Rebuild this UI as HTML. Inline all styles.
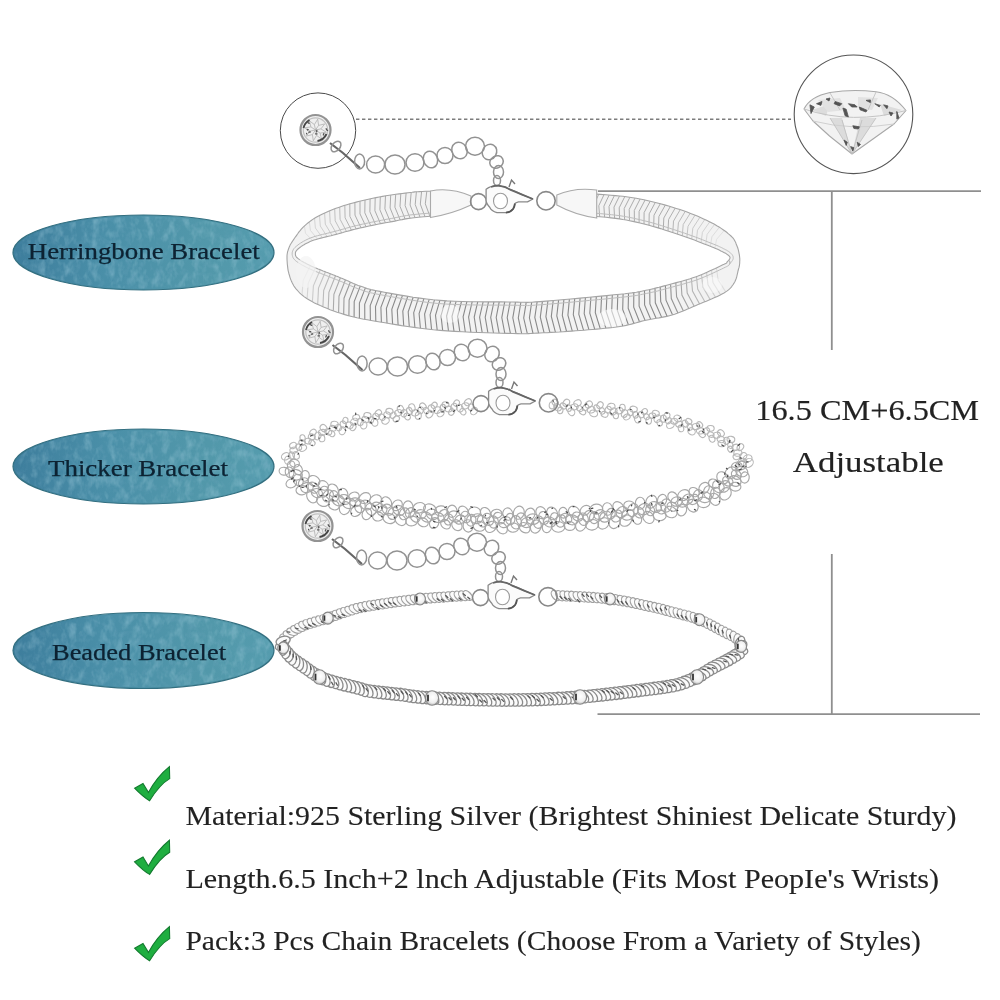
<!DOCTYPE html>
<html><head><meta charset="utf-8">
<style>
html,body{margin:0;padding:0;background:#fff;}
body{width:1000px;height:1000px;overflow:hidden;position:relative;font-family:"Liberation Serif",serif;}
svg{position:absolute;left:0;top:0;}
</style></head>
<body>
<svg width="1000" height="1000" viewBox="0 0 1000 1000">
<defs>
  <filter id="tex" x="0" y="0" width="100%" height="100%">
    <feTurbulence type="fractalNoise" baseFrequency="0.13 0.08" numOctaves="3" seed="5" result="n"/>
    <feColorMatrix in="n" type="matrix" values="0 0 0 0 0.43  0 0 0 0 0.68  0 0 0 0 0.78  0 0 0 1.6 -0.72" result="c"/>
    <feComposite in="c" in2="SourceGraphic" operator="in"/>
  </filter>
  <filter id="tex2" x="0" y="0" width="100%" height="100%">
    <feTurbulence type="fractalNoise" baseFrequency="0.16 0.13" numOctaves="3" seed="17" result="n"/>
    <feColorMatrix in="n" type="matrix" values="0 0 0 0 0.2  0 0 0 0 0.42  0 0 0 0 0.56  0 0 0 1.6 -0.78" result="c"/>
    <feComposite in="c" in2="SourceGraphic" operator="in"/>
  </filter>
  <linearGradient id="tealg" x1="0" y1="0" x2="1" y2="0"><stop offset="0" stop-color="#3d7d9c"/><stop offset="0.35" stop-color="#4a8fa8"/><stop offset="0.75" stop-color="#5298aa"/><stop offset="1" stop-color="#559cae"/></linearGradient>
  <filter id="tsoft" x="-2%" y="-10%" width="104%" height="120%"><feGaussianBlur stdDeviation="0.3"/></filter>
  <g id="chk"><path d="M0,21.6 L8.4,16.8 L13.8,25.8 Q22.5,9.9 34.8,0 L35.1,12 Q25,17.9 15,34.2 Q8,30 0,21.6 Z" fill="#1fae40" stroke="#127a2e" stroke-width="1.1" stroke-linejoin="miter"/></g>
</defs>

<!-- Teal labels -->
<g>
  <ellipse id="e1" cx="143.5" cy="252.5" rx="130.5" ry="37.5" fill="url(#tealg)" stroke="#336f80" stroke-width="1.2"/>
  <ellipse id="e2" cx="143.5" cy="466.5" rx="130.5" ry="37.5" fill="url(#tealg)" stroke="#336f80" stroke-width="1.2"/>
  <ellipse id="e3" cx="143.5" cy="650.5" rx="130.5" ry="38" fill="url(#tealg)" stroke="#336f80" stroke-width="1.2"/>
  <g filter="url(#tex)" opacity="0.5">
    <ellipse cx="143.5" cy="252.5" rx="129" ry="36" fill="#000"/>
    <ellipse cx="143.5" cy="466.5" rx="129" ry="36" fill="#000"/>
    <ellipse cx="143.5" cy="650.5" rx="129" ry="36.5" fill="#000"/>
  </g>
  <g filter="url(#tex2)" opacity="0.4">
    <ellipse cx="143.5" cy="252.5" rx="129" ry="36" fill="#000"/>
    <ellipse cx="143.5" cy="466.5" rx="129" ry="36" fill="#000"/>
    <ellipse cx="143.5" cy="650.5" rx="129" ry="36.5" fill="#000"/>
  </g>
</g>
<g font-family="Liberation Serif" fill="#0a2232" stroke="#0a2232" stroke-width="0.25" font-size="23" filter="url(#tsoft)">
  <text id="t1" x="27.8" y="259.3" textLength="232" lengthAdjust="spacingAndGlyphs">Herringbone Bracelet</text>
  <text id="t2" x="48" y="475.5" textLength="180" lengthAdjust="spacingAndGlyphs">Thicker Bracelet</text>
  <text id="t3" x="52" y="660" textLength="174" lengthAdjust="spacingAndGlyphs">Beaded Bracelet</text>
</g>

<!-- lines -->
<g stroke="#8f8f8f" stroke-width="1.8" fill="none">
  <line x1="598" y1="191.2" x2="981" y2="191.2"/>
  <line x1="831.8" y1="191.2" x2="831.8" y2="350"/>
  <line x1="831.8" y1="554" x2="831.8" y2="714.2"/>
  <line x1="597.5" y1="714.2" x2="980" y2="714.2"/>
</g>
<line x1="356" y1="119.3" x2="791" y2="119.3" stroke="#7c7c7c" stroke-width="1.5" stroke-dasharray="3.4,2.6"/>
<circle cx="318" cy="130.6" r="37.7" fill="none" stroke="#4a4a4a" stroke-width="1"/>
<circle cx="853.5" cy="114.3" r="59.3" fill="none" stroke="#555" stroke-width="1.1"/>

<!-- size text -->
<g font-family="Liberation Serif" fill="#222" stroke="#222" stroke-width="0.15" font-size="30" filter="url(#tsoft)">
  <text id="s1" x="755.3" y="420.3" textLength="223.8" lengthAdjust="spacingAndGlyphs">16.5 CM+6.5CM</text>
  <text id="s2" x="792.8" y="472.3" textLength="151" lengthAdjust="spacingAndGlyphs">Adjustable</text>
</g>

<defs>
<radialGradient id="bead" cx="0.55" cy="0.45" r="0.6"><stop offset="0" stop-color="#ffffff"/><stop offset="0.6" stop-color="#f0f0f0"/><stop offset="1" stop-color="#b0b0b0"/></radialGradient>
<radialGradient id="gemg" cx="0.5" cy="0.5" r="0.5"><stop offset="0" stop-color="#f4f4f4"/><stop offset="0.7" stop-color="#e4e4e4"/><stop offset="1" stop-color="#bdbdbd"/></radialGradient>
<mask id="hbmask" maskUnits="userSpaceOnUse" x="0" y="0" width="1000" height="1000"><rect x="0" y="0" width="1000" height="1000" fill="#fff"/><rect x="430.5" y="170" width="166.2" height="60" fill="#000"/></mask>
</defs>
<filter id="soft" x="-5%" y="-5%" width="110%" height="110%"><feGaussianBlur stdDeviation="0.35"/></filter>
<g filter="url(#soft)">
<g mask="url(#hbmask)">
<path d="M287,258 L287,256.8 L287,255.7 L287.1,254.8 L287.2,253.9 L287.4,253 L287.5,252.2 L287.7,251.4 L288,250.6 L288.2,249.8 L288.5,249 L288.8,248.2 L289.1,247.4 L289.4,246.7 L289.7,246 L290,245.2 L290.4,244.5 L290.9,243.7 L291.5,242.8 L292.1,241.9 L292.8,240.8 L293.6,239.6 L294.5,238.3 L295.5,236.8 L296.6,235.3 L297.7,233.8 L298.8,232.2 L300.1,230.7 L301.3,229.2 L302.7,227.7 L304,226.4 L305.4,225.1 L306.8,223.9 L308.2,222.8 L309.7,221.6 L311.2,220.5 L312.8,219.4 L314.5,218.3 L316.2,217.3 L318.1,216.2 L320,215.2 L322,214.2 L324.2,213.2 L326.4,212.2 L328.6,211.2 L331,210.2 L333.4,209.2 L336,208.3 L338.6,207.4 L341.2,206.5 L344,205.6 L346.9,204.7 L349.9,203.8 L353,203 L356.2,202.1 L359.5,201.3 L362.8,200.5 L366.1,199.7 L369.5,199 L372.8,198.3 L376,197.6 L379.2,197 L382.6,196.4 L385.9,195.8 L389.3,195.3 L392.6,194.8 L395.9,194.3 L399.1,193.9 L402.2,193.5 L405.2,193.1 L408,192.8 L410.4,192.5 L412.1,192.3 L413.5,192.1 L414.8,191.9 L416,191.8 L417.6,191.7 L419.6,191.6 L422.2,191.5 L425.8,191.3 L430.4,191.2 L436.2,191 L443,190.8 L450.6,190.5 L458.9,190.2 L467.7,189.9 L476.8,189.7 L486,189.5 L495.2,189.4 L504.3,189.4 L513,189.5 L521.7,189.7 L530.9,190.1 L540.3,190.5 L549.7,191 L559.2,191.6 L568.4,192.1 L577.2,192.7 L585.5,193.3 L593.2,193.9 L600,194.4 L605.9,194.8 L611,195.2 L615.5,195.6 L619.4,196 L622.9,196.3 L626.3,196.7 L629.5,197.2 L632.8,197.7 L636.2,198.3 L640,199 L644,199.8 L648.1,200.7 L652.3,201.7 L656.4,202.7 L660.5,203.8 L664.6,204.9 L668.6,206 L672.5,207.2 L676.3,208.4 L680,209.6 L683.6,210.8 L687.1,212.1 L690.6,213.4 L694,214.8 L697.3,216.1 L700.5,217.5 L703.6,218.9 L706.6,220.3 L709.4,221.7 L712,223 L714.5,224.3 L716.8,225.7 L719.1,227 L721.2,228.4 L723.1,229.7 L725,231 L726.7,232.3 L728.2,233.6 L729.7,234.8 L731,236 L732.1,237.1 L733.1,238.2 L733.9,239.2 L734.5,240.2 L735,241.2 L735.5,242.1 L735.9,243.1 L736.2,244 L736.6,245 L737,246 L737.4,247 L737.8,248 L738.1,249.1 L738.4,250.1 L738.6,251.1 L738.8,252.1 L739,253.1 L739.2,254.1 L739.4,255.1 L739.5,256 L739.6,256.9 L739.7,257.8 L739.8,258.6 L739.8,259.4 L739.8,260.2 L739.8,261 L739.7,261.8 L739.7,262.6 L739.7,263.3 L739.6,264 L739.5,264.7 L739.5,265.2 L739.4,265.7 L739.3,266.2 L739.2,266.7 L739.1,267.2 L738.9,267.8 L738.7,268.4 L738.5,269.1 L738.3,270 L738,271 L737.8,272.1 L737.5,273.3 L737.2,274.6 L736.9,276 L736.6,277.3 L736.1,278.7 L735.6,280 L735.1,281.3 L734.4,282.5 L733.7,283.6 L733,284.7 L732.2,285.8 L731.5,286.8 L730.6,287.8 L729.6,288.8 L728.5,289.8 L727.2,290.9 L725.7,291.9 L724,293 L722,294.1 L719.8,295.3 L717.3,296.4 L714.7,297.6 L712,298.8 L709.1,300 L706.3,301.2 L703.4,302.3 L700.7,303.5 L698,304.6 L695.4,305.7 L692.8,306.8 L690.2,308 L687.6,309.1 L685,310.2 L682.4,311.3 L679.8,312.3 L677.2,313.3 L674.6,314.2 L672,315 L669.4,315.7 L666.8,316.4 L664.2,316.9 L661.6,317.4 L659,317.9 L656.4,318.3 L653.8,318.7 L651.2,319.2 L648.6,319.7 L646,320.2 L643.5,320.8 L641,321.4 L638.6,322.1 L636.3,322.8 L633.9,323.4 L631.4,324.1 L628.8,324.7 L626.1,325.4 L623.2,326 L620,326.5 L616.6,327 L612.9,327.5 L609,327.9 L605,328.3 L600.9,328.7 L596.7,329.1 L592.4,329.5 L588.2,329.8 L584.1,330.2 L580,330.5 L575.9,330.8 L571.8,331.1 L567.6,331.4 L563.4,331.7 L559.2,332 L555.1,332.2 L551,332.4 L547.2,332.7 L543.5,332.8 L540,333 L537,333.1 L534.5,333.3 L532.4,333.4 L530.5,333.5 L528.6,333.6 L526.5,333.7 L524.1,333.7 L521.1,333.7 L517.5,333.6 L513,333.5 L507.5,333.4 L501.1,333.2 L494.1,333 L486.5,332.8 L478.6,332.5 L470.5,332.2 L462.4,331.8 L454.5,331.4 L447,330.9 L440,330.4 L433.4,329.8 L426.8,329 L420.3,328.2 L413.9,327.4 L407.7,326.5 L401.6,325.6 L395.8,324.6 L390.3,323.7 L385,322.8 L380,322 L375.4,321.2 L371.2,320.5 L367.3,319.8 L363.7,319.2 L360.2,318.5 L357,317.8 L353.7,317 L350.6,316.2 L347.3,315.4 L344,314.4 L340.6,313.3 L337.1,312.2 L333.6,310.9 L330.1,309.7 L326.8,308.3 L323.5,307 L320.3,305.6 L317.3,304.2 L314.5,302.9 L312,301.6 L309.7,300.3 L307.6,299.1 L305.7,297.8 L304,296.6 L302.4,295.3 L301,294.1 L299.6,292.8 L298.4,291.5 L297.2,290.2 L296,288.8 L294.9,287.4 L293.9,286 L293.1,284.5 L292.3,283.1 L291.6,281.6 L291,280.1 L290.4,278.6 L289.9,277.1 L289.5,275.5 L289,274 L288.6,272.4 L288.2,270.8 L287.9,269.1 L287.7,267.4 L287.5,265.6 L287.3,264 L287.2,262.3 L287.1,260.8 L287,259.3 Z M295.5,255 L295.4,254.5 L295.4,253.9 L295.4,253.3 L295.4,252.8 L295.6,252.2 L295.8,251.6 L296.2,251 L296.7,250.4 L297.3,249.7 L298,249 L298.9,248.3 L299.9,247.5 L301,246.6 L302.3,245.8 L303.7,244.9 L305.1,244.1 L306.7,243.2 L308.4,242.4 L310.1,241.6 L312,240.8 L314,240.1 L316.2,239.4 L318.5,238.7 L320.9,238.1 L323.4,237.5 L325.9,236.9 L328.5,236.3 L331,235.7 L333.6,235 L336,234.4 L338.4,233.8 L340.7,233.1 L342.9,232.5 L345.2,231.8 L347.5,231.2 L349.8,230.6 L352.2,229.9 L354.7,229.3 L357.3,228.6 L360,228 L362.9,227.4 L365.9,226.7 L369,226 L372.2,225.4 L375.5,224.7 L378.8,224 L382.1,223.4 L385.5,222.8 L388.8,222.2 L392,221.6 L394.9,221.1 L397.5,220.5 L399.8,220 L402.1,219.6 L404.4,219.1 L407.1,218.6 L410.2,218.2 L414,217.7 L418.5,217.3 L424,216.8 L430.6,216.3 L438.2,215.7 L446.6,215.1 L455.6,214.4 L465.1,213.8 L474.8,213.2 L484.7,212.7 L494.4,212.3 L503.9,212.1 L513,212 L522,212.1 L531.3,212.3 L540.7,212.7 L550.2,213.2 L559.6,213.7 L568.7,214.3 L577.4,215 L585.6,215.6 L593.2,216.2 L600,216.8 L605.9,217.3 L611,217.9 L615.5,218.4 L619.4,218.9 L622.9,219.5 L626.3,220 L629.5,220.7 L632.8,221.4 L636.2,222.1 L640,223 L644,224 L648.1,225 L652.3,226.2 L656.4,227.4 L660.5,228.6 L664.6,229.9 L668.6,231.2 L672.5,232.5 L676.3,233.8 L680,235 L683.6,236.2 L687.2,237.5 L690.8,238.8 L694.4,240.1 L697.8,241.4 L701.1,242.7 L704.2,243.9 L707.1,245 L709.7,246.1 L712,247 L714,247.8 L715.6,248.5 L717,249.1 L718.2,249.6 L719.2,250.1 L720,250.5 L720.8,250.9 L721.5,251.2 L722.2,251.6 L723,252 L723.8,252.4 L724.4,252.7 L725,253 L725.6,253.3 L726.1,253.6 L726.5,253.9 L726.9,254.2 L727.3,254.4 L727.6,254.7 L728,255 L728.3,255.3 L728.7,255.6 L729,255.9 L729.3,256.2 L729.5,256.4 L729.7,256.7 L729.9,257 L730,257.3 L730,257.7 L730,258 L729.9,258.4 L729.7,258.8 L729.5,259.2 L729.2,259.6 L728.8,260 L728.4,260.5 L728.1,260.9 L727.7,261.3 L727.3,261.7 L727,262 L726.8,262.3 L726.8,262.4 L726.8,262.5 L726.9,262.6 L726.9,262.7 L726.9,262.8 L726.6,263 L726.1,263.3 L725.2,263.7 L724,264.3 L722.3,265.1 L720.3,266.1 L717.9,267.2 L715.3,268.5 L712.4,269.8 L709.5,271.1 L706.5,272.5 L703.6,273.8 L700.7,274.9 L698,276 L695.4,276.9 L692.8,277.8 L690.2,278.7 L687.6,279.5 L685,280.2 L682.4,281 L679.8,281.7 L677.2,282.4 L674.6,283.1 L672,283.8 L669.4,284.5 L666.8,285.2 L664.2,285.9 L661.6,286.6 L659,287.3 L656.4,287.9 L653.8,288.6 L651.2,289.2 L648.6,289.8 L646,290.3 L643.6,290.8 L641.7,291.2 L639.9,291.6 L638.2,291.9 L636.4,292.2 L634.3,292.5 L631.8,292.9 L628.7,293.2 L624.8,293.7 L620,294.2 L613.9,294.8 L606.6,295.6 L598.3,296.4 L589.3,297.2 L580.1,298.1 L570.8,299 L561.8,299.8 L553.5,300.5 L546.1,301.1 L540,301.6 L535.4,301.9 L531.9,302.2 L529.5,302.3 L527.6,302.4 L526.1,302.4 L524.6,302.3 L522.8,302.2 L520.5,302.2 L517.3,302.1 L513,302 L507.5,302 L501.1,301.9 L494.1,301.9 L486.5,301.9 L478.6,301.8 L470.5,301.7 L462.4,301.5 L454.5,301.2 L447,300.9 L440,300.4 L433.3,299.8 L426.5,299 L419.8,298.1 L413.1,297.2 L406.7,296.1 L400.5,295.1 L394.7,294.1 L389.2,293.1 L384.3,292.2 L380,291.4 L376.4,290.7 L373.4,290.1 L370.9,289.6 L368.9,289 L367.2,288.6 L365.8,288.1 L364.4,287.6 L363.1,287.1 L361.7,286.6 L360,286 L358.2,285.4 L356.5,284.7 L354.9,284.1 L353.3,283.4 L351.8,282.7 L350.2,282 L348.7,281.3 L347.1,280.6 L345.6,279.9 L344,279.2 L342.4,278.5 L340.8,277.9 L339.2,277.3 L337.6,276.6 L336,276 L334.4,275.3 L332.8,274.7 L331.2,274.1 L329.6,273.4 L328,272.8 L326.4,272.2 L324.7,271.5 L323.1,270.9 L321.4,270.2 L319.8,269.6 L318.1,269 L316.5,268.3 L314.9,267.7 L313.4,267 L312,266.4 L310.6,265.8 L309.2,265.1 L307.9,264.4 L306.6,263.8 L305.3,263.1 L304.1,262.5 L302.9,261.8 L301.9,261.2 L300.9,260.6 L300,260 L299.2,259.4 L298.5,258.9 L297.9,258.4 L297.3,257.9 L296.8,257.5 L296.4,257 L296.1,256.5 L295.8,256 L295.6,255.5 Z" fill="#f2f2f2" fill-rule="evenodd"/>
<path d="M312.7,240.6 L305.5,233.3 L304.4,226" stroke="#e0e0e0" stroke-width="1.0" fill="none"/>
<path d="M317.4,239 L310.4,230.4 L309.4,221.8" stroke="#dbdbdb" stroke-width="1.0" fill="none"/>
<path d="M322.4,237.7 L315.4,228 L314.5,218.3" stroke="#d5d5d5" stroke-width="1.0" fill="none"/>
<path d="M327.1,236.6 L320.3,226 L319.5,215.5" stroke="#d0d0d0" stroke-width="1.0" fill="none"/>
<path d="M332,235.4 L325.3,224.2 L324.6,213" stroke="#cbcbcb" stroke-width="1.0" fill="none"/>
<path d="M336.8,234.2 L330.2,222.5 L329.6,210.8" stroke="#c6c6c6" stroke-width="1.0" fill="none"/>
<path d="M341.7,232.8 L335.2,220.8 L334.7,208.8" stroke="#c1c1c1" stroke-width="1.0" fill="none"/>
<path d="M346.5,231.5 L340.1,219.3 L339.7,207" stroke="#bcbcbc" stroke-width="1.0" fill="none"/>
<path d="M351.4,230.1 L345.1,217.8 L344.8,205.4" stroke="#b6b6b6" stroke-width="1.0" fill="none"/>
<path d="M356.1,228.9 L349.9,216.4 L349.8,203.9" stroke="#b1b1b1" stroke-width="1.0" fill="none"/>
<path d="M361,227.8 L355,215.1 L354.9,202.5" stroke="#acacac" stroke-width="1.0" fill="none"/>
<path d="M366,226.7 L360,213.9 L360,201.2" stroke="#acacac" stroke-width="1.0" fill="none"/>
<path d="M370.7,225.7 L364.8,212.8 L365,200" stroke="#acacac" stroke-width="1.0" fill="none"/>
<path d="M375.6,224.7 L369.9,211.8 L370.1,198.8" stroke="#acacac" stroke-width="1.0" fill="none"/>
<path d="M380.5,223.7 L374.9,210.7 L375.2,197.8" stroke="#acacac" stroke-width="1.0" fill="none"/>
<path d="M385.4,222.8 L379.9,209.8 L380.3,196.8" stroke="#acacac" stroke-width="1.0" fill="none"/>
<path d="M390.4,221.9 L384.9,208.9 L385.5,195.9" stroke="#acacac" stroke-width="1.0" fill="none"/>
<path d="M395.4,221 L390.1,208 L390.7,195.1" stroke="#acacac" stroke-width="1.0" fill="none"/>
<path d="M400.2,220 L394.9,207.2 L395.7,194.4" stroke="#acacac" stroke-width="1.0" fill="none"/>
<path d="M405.1,219 L400,206.3 L400.8,193.7" stroke="#acacac" stroke-width="1.0" fill="none"/>
<path d="M410.1,218.2 L405.1,205.6 L406.1,193" stroke="#acacac" stroke-width="1.0" fill="none"/>
<path d="M415,217.6 L410.1,205 L411.2,192.4" stroke="#acacac" stroke-width="1.0" fill="none"/>
<path d="M420,217.1 L415.2,204.5 L416.4,191.8" stroke="#acacac" stroke-width="1.0" fill="none"/>
<path d="M425,216.7 L420.3,204.1 L421.6,191.5" stroke="#acacac" stroke-width="1.0" fill="none"/>
<path d="M429.9,216.3 L425.3,203.8 L426.8,191.3" stroke="#acacac" stroke-width="1.0" fill="none"/>
<path d="M435,215.9 L430.5,203.5 L432,191.1" stroke="#acacac" stroke-width="1.0" fill="none"/>
<path d="M440,215.5 L435.7,203.3 L437.3,191" stroke="#acacac" stroke-width="1.0" fill="none"/>
<path d="M444.9,215.2 L440.7,203 L442.4,190.8" stroke="#acacac" stroke-width="1.0" fill="none"/>
<path d="M450,214.8 L445.8,202.7 L447.7,190.6" stroke="#acacac" stroke-width="1.0" fill="none"/>
<path d="M454.9,214.5 L450.9,202.4 L452.8,190.4" stroke="#acacac" stroke-width="1.0" fill="none"/>
<path d="M460,214.1 L456,202.2 L458.1,190.2" stroke="#acacac" stroke-width="1.0" fill="none"/>
<path d="M464.9,213.8 L461,201.9 L463.2,190.1" stroke="#acacac" stroke-width="1.0" fill="none"/>
<path d="M469.9,213.5 L466.2,201.7 L468.5,189.9" stroke="#acacac" stroke-width="1.0" fill="none"/>
<path d="M474.8,213.2 L471.2,201.5 L473.6,189.8" stroke="#acacac" stroke-width="1.0" fill="none"/>
<path d="M479.9,213 L476.4,201.3 L478.9,189.7" stroke="#acacac" stroke-width="1.0" fill="none"/>
<path d="M484.9,212.7 L481.6,201.1 L484.2,189.6" stroke="#acacac" stroke-width="1.0" fill="none"/>
<path d="M489.8,212.5 L486.6,201 L489.3,189.5" stroke="#acacac" stroke-width="1.0" fill="none"/>
<path d="M494.9,212.3 L491.7,200.9 L494.6,189.4" stroke="#acacac" stroke-width="1.0" fill="none"/>
<path d="M499.8,212.2 L496.7,200.8 L499.7,189.4" stroke="#acacac" stroke-width="1.0" fill="none"/>
<path d="M504.9,212.1 L501.9,200.7 L505,189.4" stroke="#acacac" stroke-width="1.0" fill="none"/>
<path d="M509.9,212 L507.1,200.8 L510.2,189.5" stroke="#acacac" stroke-width="1.0" fill="none"/>
<path d="M514.8,212 L512.1,200.8 L515.4,189.6" stroke="#acacac" stroke-width="1.0" fill="none"/>
<path d="M519.9,212.1 L517.3,200.9 L520.6,189.7" stroke="#acacac" stroke-width="1.0" fill="none"/>
<path d="M524.9,212.2 L522.4,201 L525.9,189.9" stroke="#acacac" stroke-width="1.0" fill="none"/>
<path d="M529.8,212.3 L527.4,201.2 L531,190.1" stroke="#acacac" stroke-width="1.0" fill="none"/>
<path d="M534.9,212.5 L532.6,201.4 L536.3,190.3" stroke="#acacac" stroke-width="1.0" fill="none"/>
<path d="M539.8,212.7 L537.6,201.6 L541.4,190.6" stroke="#acacac" stroke-width="1.0" fill="none"/>
<path d="M544.9,212.9 L542.8,201.9 L546.7,190.8" stroke="#acacac" stroke-width="1.0" fill="none"/>
<path d="M549.9,213.1 L547.9,202.1 L552,191.1" stroke="#acacac" stroke-width="1.0" fill="none"/>
<path d="M554.8,213.4 L553,202.4 L557.1,191.4" stroke="#acacac" stroke-width="1.0" fill="none"/>
<path d="M559.9,213.7 L558.1,202.7 L562.4,191.8" stroke="#acacac" stroke-width="1.0" fill="none"/>
<path d="M564.8,214.1 L563.1,203.1 L567.5,192.1" stroke="#acacac" stroke-width="1.0" fill="none"/>
<path d="M569.8,214.4 L568.3,203.4 L572.8,192.4" stroke="#acacac" stroke-width="1.0" fill="none"/>
<path d="M574.7,214.8 L573.3,203.8 L577.9,192.8" stroke="#acacac" stroke-width="1.0" fill="none"/>
<path d="M579.8,215.1 L578.5,204.2 L583.2,193.2" stroke="#acacac" stroke-width="1.0" fill="none"/>
<path d="M584.7,215.5 L583.5,204.5 L588.3,193.5" stroke="#acacac" stroke-width="1.0" fill="none"/>
<path d="M589.8,215.9 L588.7,204.9 L593.6,193.9" stroke="#acacac" stroke-width="1.0" fill="none"/>
<path d="M594.7,216.3 L593.7,205.3 L598.7,194.3" stroke="#acacac" stroke-width="1.0" fill="none"/>
<path d="M599.7,216.8 L598.8,205.7 L604,194.7" stroke="#acacac" stroke-width="1.0" fill="none"/>
<path d="M604.6,217.2 L603.9,206.2 L609.1,195.1" stroke="#acacac" stroke-width="1.0" fill="none"/>
<path d="M609.7,217.7 L609,206.6 L614.4,195.5" stroke="#acacac" stroke-width="1.0" fill="none"/>
<path d="M614.6,218.3 L614,207.1 L619.5,196" stroke="#acacac" stroke-width="1.0" fill="none"/>
<path d="M619.6,218.9 L619.2,207.8 L624.8,196.6" stroke="#acacac" stroke-width="1.0" fill="none"/>
<path d="M624.6,219.7 L624.2,208.5 L629.9,197.3" stroke="#acacac" stroke-width="1.0" fill="none"/>
<path d="M629.5,220.7 L629.2,209.4 L635,198.1" stroke="#acacac" stroke-width="1.0" fill="none"/>
<path d="M634.4,221.7 L634.3,210.4 L640.1,199" stroke="#acacac" stroke-width="1.0" fill="none"/>
<path d="M639.1,222.8 L639.1,211.4 L645.1,200" stroke="#acacac" stroke-width="1.0" fill="none"/>
<path d="M644,224 L644.1,212.6 L650.2,201.2" stroke="#acacac" stroke-width="1.0" fill="none"/>
<path d="M649,225.3 L649.2,213.8 L655.3,202.4" stroke="#acacac" stroke-width="1.0" fill="none"/>
<path d="M653.7,226.6 L654,215.2 L660.3,203.7" stroke="#acacac" stroke-width="1.0" fill="none"/>
<path d="M658.5,228 L658.9,216.5 L665.3,205.1" stroke="#acacac" stroke-width="1.0" fill="none"/>
<path d="M663.3,229.5 L663.8,218 L670.3,206.5" stroke="#acacac" stroke-width="1.0" fill="none"/>
<path d="M668,231 L668.6,219.5 L675.2,208.1" stroke="#b0b0b0" stroke-width="1.0" fill="none"/>
<path d="M672.8,232.6 L673.5,221.1 L680.2,209.7" stroke="#b5b5b5" stroke-width="1.0" fill="none"/>
<path d="M677.5,234.2 L678.4,222.8 L685.2,211.4" stroke="#bababa" stroke-width="1.0" fill="none"/>
<path d="M682.3,235.8 L683.2,224.5 L690.2,213.3" stroke="#bfbfbf" stroke-width="1.0" fill="none"/>
<path d="M686.9,237.4 L688,226.3 L695,215.2" stroke="#c4c4c4" stroke-width="1.0" fill="none"/>
<path d="M691.7,239.1 L692.8,228.2 L699.9,217.3" stroke="#c9c9c9" stroke-width="1.0" fill="none"/>
<path d="M696.3,240.9 L697.5,230.2 L704.8,219.5" stroke="#cecece" stroke-width="1.0" fill="none"/>
<path d="M701.1,242.7 L702.4,232.3 L709.7,221.9" stroke="#d3d3d3" stroke-width="1.0" fill="none"/>
<path d="M705.7,244.5 L707.1,234.4 L714.6,224.4" stroke="#d8d8d8" stroke-width="1.0" fill="none"/>
<path d="M710.3,246.3 L711.9,236.8 L719.4,227.2" stroke="#dddddd" stroke-width="1.0" fill="none"/>
<path d="M714.9,248.2 L716.6,239.3 L724.2,230.5" stroke="#e2e2e2" stroke-width="1.0" fill="none"/>
<path d="M310.4,265.6 L303.2,280.3 L302,294.9" stroke="#dbdbdb" stroke-width="1.1" fill="none"/>
<path d="M315.3,267.8 L308.2,283.3 L307.1,298.7" stroke="#d3d3d3" stroke-width="1.1" fill="none"/>
<path d="M320.3,269.8 L313.4,285.8 L312.4,301.8" stroke="#cbcbcb" stroke-width="1.1" fill="none"/>
<path d="M325.4,271.8 L318.5,288.1 L317.7,304.4" stroke="#c3c3c3" stroke-width="1.1" fill="none"/>
<path d="M330.4,273.8 L323.7,290.3 L322.9,306.7" stroke="#bbbbbb" stroke-width="1.1" fill="none"/>
<path d="M335.5,275.8 L328.9,292.3 L328.2,308.9" stroke="#b3b3b3" stroke-width="1.1" fill="none"/>
<path d="M340.4,277.7 L333.9,294.3 L333.3,310.8" stroke="#ababab" stroke-width="1.1" fill="none"/>
<path d="M345.5,279.8 L339,296.2 L338.6,312.7" stroke="#a3a3a3" stroke-width="1.1" fill="none"/>
<path d="M350.4,282 L344,298.2 L343.7,314.3" stroke="#9b9b9b" stroke-width="1.1" fill="none"/>
<path d="M355.3,284.2 L349.1,300 L348.9,315.8" stroke="#939393" stroke-width="1.1" fill="none"/>
<path d="M360.3,286.1 L354.2,301.6 L354.1,317.1" stroke="#8b8b8b" stroke-width="1.1" fill="none"/>
<path d="M365.4,287.9 L359.4,303.1 L359.4,318.3" stroke="#8a8a8a" stroke-width="1.1" fill="none"/>
<path d="M370.6,289.5 L364.7,304.4 L364.8,319.4" stroke="#8a8a8a" stroke-width="1.1" fill="none"/>
<path d="M375.9,290.6 L370.2,305.5 L370.4,320.4" stroke="#8a8a8a" stroke-width="1.1" fill="none"/>
<path d="M381.1,291.6 L375.5,306.5 L375.8,321.3" stroke="#8a8a8a" stroke-width="1.1" fill="none"/>
<path d="M386.5,292.6 L380.9,307.4 L381.4,322.2" stroke="#8a8a8a" stroke-width="1.1" fill="none"/>
<path d="M391.8,293.6 L386.4,308.4 L387,323.2" stroke="#8a8a8a" stroke-width="1.1" fill="none"/>
<path d="M397.1,294.5 L391.8,309.3 L392.6,324.1" stroke="#8a8a8a" stroke-width="1.1" fill="none"/>
<path d="M402.5,295.4 L397.3,310.2 L398.1,325" stroke="#8a8a8a" stroke-width="1.1" fill="none"/>
<path d="M407.8,296.3 L402.8,311.1 L403.7,325.9" stroke="#8a8a8a" stroke-width="1.1" fill="none"/>
<path d="M413.2,297.2 L408.2,311.9 L409.3,326.7" stroke="#8a8a8a" stroke-width="1.1" fill="none"/>
<path d="M418.5,297.9 L413.7,312.7 L414.9,327.5" stroke="#8a8a8a" stroke-width="1.1" fill="none"/>
<path d="M423.9,298.7 L419.1,313.5 L420.4,328.3" stroke="#8a8a8a" stroke-width="1.1" fill="none"/>
<path d="M429.2,299.3 L424.6,314.1 L426,329" stroke="#8a8a8a" stroke-width="1.1" fill="none"/>
<path d="M434.5,299.9 L430.1,314.7 L431.6,329.6" stroke="#8a8a8a" stroke-width="1.1" fill="none"/>
<path d="M439.9,300.4 L435.5,315.3 L437.2,330.1" stroke="#8a8a8a" stroke-width="1.1" fill="none"/>
<path d="M445.2,300.8 L441,315.7 L442.7,330.6" stroke="#8a8a8a" stroke-width="1.1" fill="none"/>
<path d="M450.7,301 L446.6,316 L448.5,331" stroke="#8a8a8a" stroke-width="1.1" fill="none"/>
<path d="M456.1,301.3 L452,316.3 L454,331.4" stroke="#8a8a8a" stroke-width="1.1" fill="none"/>
<path d="M461.5,301.5 L457.6,316.6 L459.8,331.7" stroke="#8a8a8a" stroke-width="1.1" fill="none"/>
<path d="M466.9,301.6 L463.1,316.8 L465.3,332" stroke="#8a8a8a" stroke-width="1.1" fill="none"/>
<path d="M472.2,301.7 L468.6,317 L470.9,332.2" stroke="#8a8a8a" stroke-width="1.1" fill="none"/>
<path d="M477.7,301.8 L474.2,317.1 L476.6,332.4" stroke="#8a8a8a" stroke-width="1.1" fill="none"/>
<path d="M483.1,301.8 L479.6,317.2 L482.2,332.6" stroke="#8a8a8a" stroke-width="1.1" fill="none"/>
<path d="M488.5,301.9 L485.2,317.3 L487.9,332.8" stroke="#8a8a8a" stroke-width="1.1" fill="none"/>
<path d="M493.9,301.9 L490.7,317.4 L493.5,333" stroke="#8a8a8a" stroke-width="1.1" fill="none"/>
<path d="M499.2,301.9 L496.2,317.5 L499.1,333.1" stroke="#8a8a8a" stroke-width="1.1" fill="none"/>
<path d="M504.7,301.9 L501.8,317.6 L504.8,333.3" stroke="#8a8a8a" stroke-width="1.1" fill="none"/>
<path d="M510.1,302 L507.2,317.7 L510.4,333.4" stroke="#8a8a8a" stroke-width="1.1" fill="none"/>
<path d="M515.5,302 L512.8,317.8 L516.1,333.6" stroke="#8a8a8a" stroke-width="1.1" fill="none"/>
<path d="M520.9,302.2 L518.3,317.9 L521.7,333.7" stroke="#8a8a8a" stroke-width="1.1" fill="none"/>
<path d="M526.2,302.4 L523.7,318 L527.3,333.6" stroke="#8a8a8a" stroke-width="1.1" fill="none"/>
<path d="M531.7,302.2 L529.4,317.8 L533,333.4" stroke="#8a8a8a" stroke-width="1.1" fill="none"/>
<path d="M537.1,301.8 L534.8,317.4 L538.6,333.1" stroke="#8a8a8a" stroke-width="1.1" fill="none"/>
<path d="M542.4,301.4 L540.3,317.1 L544.1,332.8" stroke="#8a8a8a" stroke-width="1.1" fill="none"/>
<path d="M547.9,301 L545.9,316.7 L549.9,332.5" stroke="#8a8a8a" stroke-width="1.1" fill="none"/>
<path d="M553.2,300.5 L551.3,316.4 L555.4,332.2" stroke="#8a8a8a" stroke-width="1.1" fill="none"/>
<path d="M558.6,300.1 L556.8,316 L561,331.9" stroke="#8a8a8a" stroke-width="1.1" fill="none"/>
<path d="M563.9,299.6 L562.3,315.5 L566.6,331.5" stroke="#8a8a8a" stroke-width="1.1" fill="none"/>
<path d="M569.4,299.1 L567.9,315.1 L572.3,331.1" stroke="#8a8a8a" stroke-width="1.1" fill="none"/>
<path d="M574.7,298.6 L573.3,314.6 L577.9,330.7" stroke="#8a8a8a" stroke-width="1.1" fill="none"/>
<path d="M580.1,298.1 L578.8,314.2 L583.5,330.2" stroke="#8a8a8a" stroke-width="1.1" fill="none"/>
<path d="M585.4,297.6 L584.2,313.7 L589,329.8" stroke="#8a8a8a" stroke-width="1.1" fill="none"/>
<path d="M590.9,297.1 L589.8,313.2 L594.8,329.3" stroke="#8a8a8a" stroke-width="1.1" fill="none"/>
<path d="M596.3,296.6 L595.3,312.7 L600.3,328.8" stroke="#8a8a8a" stroke-width="1.1" fill="none"/>
<path d="M601.6,296.1 L600.8,312.2 L605.9,328.2" stroke="#8a8a8a" stroke-width="1.1" fill="none"/>
<path d="M606.9,295.5 L606.2,311.6 L611.5,327.6" stroke="#8a8a8a" stroke-width="1.1" fill="none"/>
<path d="M612.3,295 L611.7,311 L617.1,326.9" stroke="#8a8a8a" stroke-width="1.1" fill="none"/>
<path d="M617.8,294.4 L617.3,310.2 L622.8,326" stroke="#8a8a8a" stroke-width="1.1" fill="none"/>
<path d="M623.1,293.9 L622.7,309.4 L628.4,324.8" stroke="#8a8a8a" stroke-width="1.1" fill="none"/>
<path d="M628.5,293.3 L628.2,308.3 L633.9,323.4" stroke="#8a8a8a" stroke-width="1.1" fill="none"/>
<path d="M633.8,292.6 L633.7,307.2 L639.5,321.8" stroke="#8a8a8a" stroke-width="1.1" fill="none"/>
<path d="M639.1,291.7 L639.1,306.1 L645.1,320.4" stroke="#8a8a8a" stroke-width="1.1" fill="none"/>
<path d="M644.5,290.6 L644.6,304.9 L650.7,319.3" stroke="#8a8a8a" stroke-width="1.1" fill="none"/>
<path d="M649.7,289.5 L649.9,303.9 L656.1,318.3" stroke="#8a8a8a" stroke-width="1.1" fill="none"/>
<path d="M655,288.3 L655.3,302.8 L661.7,317.4" stroke="#8a8a8a" stroke-width="1.1" fill="none"/>
<path d="M660.2,287 L660.7,301.6 L667.1,316.3" stroke="#8a8a8a" stroke-width="1.1" fill="none"/>
<path d="M665.4,285.6 L666,300.2 L672.5,314.8" stroke="#8b8b8b" stroke-width="1.1" fill="none"/>
<path d="M670.6,284.2 L671.3,298.6 L677.9,313" stroke="#949494" stroke-width="1.1" fill="none"/>
<path d="M675.8,282.8 L676.6,296.8 L683.4,310.9" stroke="#9c9c9c" stroke-width="1.1" fill="none"/>
<path d="M681,281.3 L681.9,295 L688.8,308.6" stroke="#a4a4a4" stroke-width="1.1" fill="none"/>
<path d="M686.2,279.9 L687.2,293 L694.2,306.2" stroke="#adadad" stroke-width="1.1" fill="none"/>
<path d="M691.4,278.3 L692.5,291.1 L699.6,303.9" stroke="#b5b5b5" stroke-width="1.1" fill="none"/>
<path d="M696.5,276.6 L697.7,289.1 L704.9,301.7" stroke="#bdbdbd" stroke-width="1.1" fill="none"/>
<path d="M701.5,274.6 L702.9,287.1 L710.2,299.6" stroke="#c5c5c5" stroke-width="1.1" fill="none"/>
<path d="M706.6,272.5 L708,284.9 L715.5,297.3" stroke="#cdcdcd" stroke-width="1.1" fill="none"/>
<path d="M711.5,270.2 L713,282.6 L720.6,294.9" stroke="#d5d5d5" stroke-width="1.1" fill="none"/>
<path d="M716.4,268 L718.1,279.9 L725.7,291.9" stroke="#dddddd" stroke-width="1.1" fill="none"/>
<path d="M287,258 L287,256.8 L287,255.7 L287.1,254.8 L287.2,253.9 L287.4,253 L287.5,252.2 L287.7,251.4 L288,250.6 L288.2,249.8 L288.5,249 L288.8,248.2 L289.1,247.4 L289.4,246.7 L289.7,246 L290,245.2 L290.4,244.5 L290.9,243.7 L291.5,242.8 L292.1,241.9 L292.8,240.8 L293.6,239.6 L294.5,238.3 L295.5,236.8 L296.6,235.3 L297.7,233.8 L298.8,232.2 L300.1,230.7 L301.3,229.2 L302.7,227.7 L304,226.4 L305.4,225.1 L306.8,223.9 L308.2,222.8 L309.7,221.6 L311.2,220.5 L312.8,219.4 L314.5,218.3 L316.2,217.3 L318.1,216.2 L320,215.2 L322,214.2 L324.2,213.2 L326.4,212.2 L328.6,211.2 L331,210.2 L333.4,209.2 L336,208.3 L338.6,207.4 L341.2,206.5 L344,205.6 L346.9,204.7 L349.9,203.8 L353,203 L356.2,202.1 L359.5,201.3 L362.8,200.5 L366.1,199.7 L369.5,199 L372.8,198.3 L376,197.6 L379.2,197 L382.6,196.4 L385.9,195.8 L389.3,195.3 L392.6,194.8 L395.9,194.3 L399.1,193.9 L402.2,193.5 L405.2,193.1 L408,192.8 L410.4,192.5 L412.1,192.3 L413.5,192.1 L414.8,191.9 L416,191.8 L417.6,191.7 L419.6,191.6 L422.2,191.5 L425.8,191.3 L430.4,191.2 L436.2,191 L443,190.8 L450.6,190.5 L458.9,190.2 L467.7,189.9 L476.8,189.7 L486,189.5 L495.2,189.4 L504.3,189.4 L513,189.5 L521.7,189.7 L530.9,190.1 L540.3,190.5 L549.7,191 L559.2,191.6 L568.4,192.1 L577.2,192.7 L585.5,193.3 L593.2,193.9 L600,194.4 L605.9,194.8 L611,195.2 L615.5,195.6 L619.4,196 L622.9,196.3 L626.3,196.7 L629.5,197.2 L632.8,197.7 L636.2,198.3 L640,199 L644,199.8 L648.1,200.7 L652.3,201.7 L656.4,202.7 L660.5,203.8 L664.6,204.9 L668.6,206 L672.5,207.2 L676.3,208.4 L680,209.6 L683.6,210.8 L687.1,212.1 L690.6,213.4 L694,214.8 L697.3,216.1 L700.5,217.5 L703.6,218.9 L706.6,220.3 L709.4,221.7 L712,223 L714.5,224.3 L716.8,225.7 L719.1,227 L721.2,228.4 L723.1,229.7 L725,231 L726.7,232.3 L728.2,233.6 L729.7,234.8 L731,236 L732.1,237.1 L733.1,238.2 L733.9,239.2 L734.5,240.2 L735,241.2 L735.5,242.1 L735.9,243.1 L736.2,244 L736.6,245 L737,246 L737.4,247 L737.8,248 L738.1,249.1 L738.4,250.1 L738.6,251.1 L738.8,252.1 L739,253.1 L739.2,254.1 L739.4,255.1 L739.5,256 L739.6,256.9 L739.7,257.8 L739.8,258.6 L739.8,259.4 L739.8,260.2 L739.8,261 L739.7,261.8 L739.7,262.6 L739.7,263.3 L739.6,264 L739.5,264.7 L739.5,265.2 L739.4,265.7 L739.3,266.2 L739.2,266.7 L739.1,267.2 L738.9,267.8 L738.7,268.4 L738.5,269.1 L738.3,270 L738,271 L737.8,272.1 L737.5,273.3 L737.2,274.6 L736.9,276 L736.6,277.3 L736.1,278.7 L735.6,280 L735.1,281.3 L734.4,282.5 L733.7,283.6 L733,284.7 L732.2,285.8 L731.5,286.8 L730.6,287.8 L729.6,288.8 L728.5,289.8 L727.2,290.9 L725.7,291.9 L724,293 L722,294.1 L719.8,295.3 L717.3,296.4 L714.7,297.6 L712,298.8 L709.1,300 L706.3,301.2 L703.4,302.3 L700.7,303.5 L698,304.6 L695.4,305.7 L692.8,306.8 L690.2,308 L687.6,309.1 L685,310.2 L682.4,311.3 L679.8,312.3 L677.2,313.3 L674.6,314.2 L672,315 L669.4,315.7 L666.8,316.4 L664.2,316.9 L661.6,317.4 L659,317.9 L656.4,318.3 L653.8,318.7 L651.2,319.2 L648.6,319.7 L646,320.2 L643.5,320.8 L641,321.4 L638.6,322.1 L636.3,322.8 L633.9,323.4 L631.4,324.1 L628.8,324.7 L626.1,325.4 L623.2,326 L620,326.5 L616.6,327 L612.9,327.5 L609,327.9 L605,328.3 L600.9,328.7 L596.7,329.1 L592.4,329.5 L588.2,329.8 L584.1,330.2 L580,330.5 L575.9,330.8 L571.8,331.1 L567.6,331.4 L563.4,331.7 L559.2,332 L555.1,332.2 L551,332.4 L547.2,332.7 L543.5,332.8 L540,333 L537,333.1 L534.5,333.3 L532.4,333.4 L530.5,333.5 L528.6,333.6 L526.5,333.7 L524.1,333.7 L521.1,333.7 L517.5,333.6 L513,333.5 L507.5,333.4 L501.1,333.2 L494.1,333 L486.5,332.8 L478.6,332.5 L470.5,332.2 L462.4,331.8 L454.5,331.4 L447,330.9 L440,330.4 L433.4,329.8 L426.8,329 L420.3,328.2 L413.9,327.4 L407.7,326.5 L401.6,325.6 L395.8,324.6 L390.3,323.7 L385,322.8 L380,322 L375.4,321.2 L371.2,320.5 L367.3,319.8 L363.7,319.2 L360.2,318.5 L357,317.8 L353.7,317 L350.6,316.2 L347.3,315.4 L344,314.4 L340.6,313.3 L337.1,312.2 L333.6,310.9 L330.1,309.7 L326.8,308.3 L323.5,307 L320.3,305.6 L317.3,304.2 L314.5,302.9 L312,301.6 L309.7,300.3 L307.6,299.1 L305.7,297.8 L304,296.6 L302.4,295.3 L301,294.1 L299.6,292.8 L298.4,291.5 L297.2,290.2 L296,288.8 L294.9,287.4 L293.9,286 L293.1,284.5 L292.3,283.1 L291.6,281.6 L291,280.1 L290.4,278.6 L289.9,277.1 L289.5,275.5 L289,274 L288.6,272.4 L288.2,270.8 L287.9,269.1 L287.7,267.4 L287.5,265.6 L287.3,264 L287.2,262.3 L287.1,260.8 L287,259.3 Z M295.5,255 L295.4,254.5 L295.4,253.9 L295.4,253.3 L295.4,252.8 L295.6,252.2 L295.8,251.6 L296.2,251 L296.7,250.4 L297.3,249.7 L298,249 L298.9,248.3 L299.9,247.5 L301,246.6 L302.3,245.8 L303.7,244.9 L305.1,244.1 L306.7,243.2 L308.4,242.4 L310.1,241.6 L312,240.8 L314,240.1 L316.2,239.4 L318.5,238.7 L320.9,238.1 L323.4,237.5 L325.9,236.9 L328.5,236.3 L331,235.7 L333.6,235 L336,234.4 L338.4,233.8 L340.7,233.1 L342.9,232.5 L345.2,231.8 L347.5,231.2 L349.8,230.6 L352.2,229.9 L354.7,229.3 L357.3,228.6 L360,228 L362.9,227.4 L365.9,226.7 L369,226 L372.2,225.4 L375.5,224.7 L378.8,224 L382.1,223.4 L385.5,222.8 L388.8,222.2 L392,221.6 L394.9,221.1 L397.5,220.5 L399.8,220 L402.1,219.6 L404.4,219.1 L407.1,218.6 L410.2,218.2 L414,217.7 L418.5,217.3 L424,216.8 L430.6,216.3 L438.2,215.7 L446.6,215.1 L455.6,214.4 L465.1,213.8 L474.8,213.2 L484.7,212.7 L494.4,212.3 L503.9,212.1 L513,212 L522,212.1 L531.3,212.3 L540.7,212.7 L550.2,213.2 L559.6,213.7 L568.7,214.3 L577.4,215 L585.6,215.6 L593.2,216.2 L600,216.8 L605.9,217.3 L611,217.9 L615.5,218.4 L619.4,218.9 L622.9,219.5 L626.3,220 L629.5,220.7 L632.8,221.4 L636.2,222.1 L640,223 L644,224 L648.1,225 L652.3,226.2 L656.4,227.4 L660.5,228.6 L664.6,229.9 L668.6,231.2 L672.5,232.5 L676.3,233.8 L680,235 L683.6,236.2 L687.2,237.5 L690.8,238.8 L694.4,240.1 L697.8,241.4 L701.1,242.7 L704.2,243.9 L707.1,245 L709.7,246.1 L712,247 L714,247.8 L715.6,248.5 L717,249.1 L718.2,249.6 L719.2,250.1 L720,250.5 L720.8,250.9 L721.5,251.2 L722.2,251.6 L723,252 L723.8,252.4 L724.4,252.7 L725,253 L725.6,253.3 L726.1,253.6 L726.5,253.9 L726.9,254.2 L727.3,254.4 L727.6,254.7 L728,255 L728.3,255.3 L728.7,255.6 L729,255.9 L729.3,256.2 L729.5,256.4 L729.7,256.7 L729.9,257 L730,257.3 L730,257.7 L730,258 L729.9,258.4 L729.7,258.8 L729.5,259.2 L729.2,259.6 L728.8,260 L728.4,260.5 L728.1,260.9 L727.7,261.3 L727.3,261.7 L727,262 L726.8,262.3 L726.8,262.4 L726.8,262.5 L726.9,262.6 L726.9,262.7 L726.9,262.8 L726.6,263 L726.1,263.3 L725.2,263.7 L724,264.3 L722.3,265.1 L720.3,266.1 L717.9,267.2 L715.3,268.5 L712.4,269.8 L709.5,271.1 L706.5,272.5 L703.6,273.8 L700.7,274.9 L698,276 L695.4,276.9 L692.8,277.8 L690.2,278.7 L687.6,279.5 L685,280.2 L682.4,281 L679.8,281.7 L677.2,282.4 L674.6,283.1 L672,283.8 L669.4,284.5 L666.8,285.2 L664.2,285.9 L661.6,286.6 L659,287.3 L656.4,287.9 L653.8,288.6 L651.2,289.2 L648.6,289.8 L646,290.3 L643.6,290.8 L641.7,291.2 L639.9,291.6 L638.2,291.9 L636.4,292.2 L634.3,292.5 L631.8,292.9 L628.7,293.2 L624.8,293.7 L620,294.2 L613.9,294.8 L606.6,295.6 L598.3,296.4 L589.3,297.2 L580.1,298.1 L570.8,299 L561.8,299.8 L553.5,300.5 L546.1,301.1 L540,301.6 L535.4,301.9 L531.9,302.2 L529.5,302.3 L527.6,302.4 L526.1,302.4 L524.6,302.3 L522.8,302.2 L520.5,302.2 L517.3,302.1 L513,302 L507.5,302 L501.1,301.9 L494.1,301.9 L486.5,301.9 L478.6,301.8 L470.5,301.7 L462.4,301.5 L454.5,301.2 L447,300.9 L440,300.4 L433.3,299.8 L426.5,299 L419.8,298.1 L413.1,297.2 L406.7,296.1 L400.5,295.1 L394.7,294.1 L389.2,293.1 L384.3,292.2 L380,291.4 L376.4,290.7 L373.4,290.1 L370.9,289.6 L368.9,289 L367.2,288.6 L365.8,288.1 L364.4,287.6 L363.1,287.1 L361.7,286.6 L360,286 L358.2,285.4 L356.5,284.7 L354.9,284.1 L353.3,283.4 L351.8,282.7 L350.2,282 L348.7,281.3 L347.1,280.6 L345.6,279.9 L344,279.2 L342.4,278.5 L340.8,277.9 L339.2,277.3 L337.6,276.6 L336,276 L334.4,275.3 L332.8,274.7 L331.2,274.1 L329.6,273.4 L328,272.8 L326.4,272.2 L324.7,271.5 L323.1,270.9 L321.4,270.2 L319.8,269.6 L318.1,269 L316.5,268.3 L314.9,267.7 L313.4,267 L312,266.4 L310.6,265.8 L309.2,265.1 L307.9,264.4 L306.6,263.8 L305.3,263.1 L304.1,262.5 L302.9,261.8 L301.9,261.2 L300.9,260.6 L300,260 L299.2,259.4 L298.5,258.9 L297.9,258.4 L297.3,257.9 L296.8,257.5 L296.4,257 L296.1,256.5 L295.8,256 L295.6,255.5 Z" fill="none" stroke="#a5a5a5" stroke-width="1.1"/>
<path d="M292.4,255.6 L292.2,254.8 L292.2,254 L292.2,253.1 L292.3,252.2 L292.6,251.2 L293,250.2 L293.5,249.2 L294.2,248.3 L295,247.4 L295.9,246.6 L296.9,245.8 L298,244.9 L299.2,244 L300.5,243.1 L302,242.2 L303.5,241.3 L305.2,240.4 L307,239.5 L308.9,238.6 L310.9,237.8 L313,237.1 L315.2,236.3 L317.6,235.7 L320.1,235 L322.6,234.4 L325.2,233.8 L327.7,233.2 L330.3,232.5 L332.8,231.9 L335.2,231.3 L337.5,230.7 L339.8,230 L342.1,229.4 L344.3,228.8 L346.6,228.1 L349,227.5 L351.4,226.8 L353.9,226.2 L356.5,225.5 L359.3,224.9 L362.2,224.2 L365.2,223.6 L368.4,222.9 L371.6,222.2 L374.9,221.6 L378.2,220.9 L381.5,220.3 L384.9,219.6 L388.2,219 L391.4,218.5 L394.3,217.9 L396.8,217.4 L399.1,216.9 L401.4,216.4 L403.9,216 L406.6,215.5 L409.8,215 L413.6,214.6 L418.2,214.1 L423.7,213.6 L430.4,213.1 L437.9,212.5 L446.3,211.9 L455.4,211.2 L464.9,210.6 L474.6,210 L484.5,209.5 L494.3,209.1 L503.9,208.9 L513,208.8 L522,208.9 L531.4,209.1 L540.9,209.5 L550.4,210 L559.8,210.5 L568.9,211.1 L577.7,211.8 L585.9,212.4 L593.5,213 L600.3,213.6 L606.2,214.2 L611.4,214.7 L615.8,215.2 L619.8,215.7 L623.5,216.3 L626.8,216.9 L630.1,217.5 L633.4,218.2 L636.9,219 L640.7,219.9 L644.8,220.9 L649,221.9 L653.1,223.1 L657.3,224.3 L661.4,225.6 L665.5,226.9 L669.6,228.2 L673.5,229.5 L677.3,230.7 L681,232 L684.7,233.2 L688.3,234.5 L692,235.8 L695.5,237.1 L699,238.4 L702.3,239.7 L705.4,240.9 L708.2,242.1 L710.9,243.1 L713.2,244 L715.2,244.8 L716.9,245.5 L718.3,246.1 L719.5,246.7 L720.6,247.2 L721.5,247.6 L722.3,248 L723,248.4 L723.7,248.8 L724.4,249.1 L725.2,249.5 L725.9,249.9 L726.6,250.2 L727.1,250.6 L727.7,250.9 L728.2,251.2 L728.7,251.5 L729.2,251.9 L729.6,252.2 L730.1,252.6 L730.4,252.9 L730.8,253.2 L731.2,253.6 L731.6,254 L732,254.5 L732.4,255.1 L732.8,255.8 L733.1,256.6 L733.2,257.5 L733.2,258.5 L732.9,259.5 L732.5,260.3 L732.1,260.9 L731.7,261.5 L731.3,262.1 L730.8,262.6 L730.4,263.1 L730,263.5 L729.6,263.9 L729.4,264.1 L729.6,263.8 L730,262.2 L729.3,260.5 L729.5,260.7 L730,263.4 L729,265.2 L728.3,265.7 L727.6,266.1 L726.7,266.6 L725.4,267.2 L723.7,268 L721.7,269 L719.3,270.1 L716.6,271.4 L713.8,272.7 L710.8,274.1 L707.8,275.4 L704.8,276.7 L701.9,277.9 L699.1,279 L696.5,280 L693.8,280.9 L691.2,281.7 L688.5,282.5 L685.9,283.3 L683.3,284 L680.6,284.8 L678,285.5 L675.4,286.2 L672.8,286.9 L670.2,287.6 L667.6,288.3 L665,289 L662.4,289.7 L659.8,290.4 L657.2,291.1 L654.5,291.7 L651.9,292.3 L649.3,292.9 L646.6,293.4 L644.3,293.9 L642.3,294.3 L640.5,294.7 L638.8,295 L636.9,295.4 L634.7,295.7 L632.2,296 L629,296.4 L625.1,296.9 L620.3,297.4 L614.3,298 L606.9,298.8 L598.6,299.6 L589.6,300.4 L580.4,301.3 L571.1,302.2 L562.1,303 L553.7,303.7 L546.4,304.3 L540.2,304.8 L535.6,305.1 L532.1,305.4 L529.6,305.5 L527.7,305.6 L526,305.6 L524.5,305.5 L522.7,305.4 L520.4,305.4 L517.3,305.3 L513,305.2 L507.5,305.2 L501.1,305.1 L494.1,305.1 L486.5,305.1 L478.5,305 L470.4,304.9 L462.3,304.7 L454.4,304.4 L446.8,304.1 L439.7,303.6 L433,303 L426.1,302.2 L419.3,301.3 L412.7,300.3 L406.2,299.3 L400,298.2 L394.1,297.2 L388.7,296.2 L383.7,295.3 L379.4,294.5 L375.8,293.9 L372.7,293.2 L370.2,292.7 L368.1,292.1 L366.3,291.6 L364.8,291.1 L363.4,290.6 L362,290.1 L360.6,289.6 L358.9,289 L357.1,288.4 L355.4,287.7 L353.7,287 L352,286.3 L350.4,285.6 L348.9,284.9 L347.3,284.2 L345.8,283.5 L344.3,282.8 L342.8,282.2 L341.2,281.5 L339.6,280.9 L338,280.2 L336.4,279.6 L334.8,278.9 L333.2,278.3 L331.6,277.7 L330,277 L328.4,276.4 L326.8,275.8 L325.2,275.1 L323.6,274.5 L321.9,273.9 L320.3,273.2 L318.6,272.6 L316.9,271.9 L315.3,271.3 L313.7,270.6 L312.2,270 L310.7,269.3 L309.2,268.7 L307.8,268 L306.4,267.3 L305.1,266.6 L303.8,265.9 L302.5,265.3 L301.3,264.6 L300.2,263.9 L299.2,263.3 L298.2,262.6 L297.3,262 L296.6,261.5 L295.8,260.9 L295.2,260.3 L294.5,259.7 L293.9,259 L293.4,258.2 L292.9,257.4 L292.6,256.5 Z" fill="none" stroke="#bdbdbd" stroke-width="1"/>
<ellipse cx="306" cy="272" rx="10" ry="16" fill="#f3f3f3" opacity="0.7"/>
<ellipse cx="612" cy="318" rx="14" ry="9" fill="#fff" opacity="0.55"/>
<ellipse cx="450" cy="314" rx="10" ry="9" fill="#fff" opacity="0.45"/>
<ellipse cx="712" cy="285" rx="10" ry="8" fill="#fff" opacity="0.4"/>
</g>
<path d="M430.5,191 Q450,187 471,196 L471,205 Q452,214 430.5,217.5 Z" fill="#f7f7f7" stroke="#aaa" stroke-width="1.1"/>
<path d="M596.7,190 Q575,187 556.8,195 L556.8,205 Q575,215 596.7,218 Z" fill="#f7f7f7" stroke="#aaa" stroke-width="1.1"/>
<g fill="none" stroke="#b8b8b8" stroke-width="1.1"><ellipse cx="748.5" cy="463" rx="5.1" ry="4.1" transform="rotate(143.1 748.5 463)"/><ellipse cx="287.9" cy="460.2" rx="4.2" ry="3.3" transform="rotate(97.5 287.9 460.2)"/><ellipse cx="285.7" cy="456.3" rx="4.4" ry="3.5" transform="rotate(154.2 285.7 456.3)"/><ellipse cx="291.6" cy="455.5" rx="3.6" ry="2.9" transform="rotate(97.1 291.6 455.5)"/><ellipse cx="296.1" cy="455.4" rx="3.9" ry="3.1" transform="rotate(67.8 296.1 455.4)"/><ellipse cx="293.7" cy="450.2" rx="3.8" ry="3.1" transform="rotate(164.3 293.7 450.2)"/><ellipse cx="293.1" cy="445.5" rx="3.6" ry="2.9" transform="rotate(148.8 293.1 445.5)"/><ellipse cx="298.6" cy="447.2" rx="3.3" ry="2.7" transform="rotate(56.1 298.6 447.2)"/><ellipse cx="302.8" cy="448" rx="3.9" ry="3.1" transform="rotate(147.5 302.8 448)"/><ellipse cx="302.1" cy="442.5" rx="3.3" ry="2.7" transform="rotate(14.8 302.1 442.5)"/><ellipse cx="302.6" cy="438" rx="3.3" ry="2.6" transform="rotate(77.2 302.6 438)"/><ellipse cx="307.9" cy="441.1" rx="3.4" ry="2.8" transform="rotate(11.1 307.9 441.1)"/><ellipse cx="312" cy="442.8" rx="3.3" ry="2.6" transform="rotate(36 312 442.8)"/><ellipse cx="311.8" cy="436.7" rx="3.5" ry="2.8" transform="rotate(17.7 311.8 436.7)"/><ellipse cx="313" cy="432.4" rx="3.5" ry="2.8" transform="rotate(135.4 313 432.4)"/><ellipse cx="317.7" cy="436" rx="4" ry="3.2" transform="rotate(117.7 317.7 436)"/><ellipse cx="321.8" cy="438.1" rx="3.7" ry="3" transform="rotate(79.6 321.8 438.1)"/><ellipse cx="322.3" cy="432.4" rx="3.8" ry="3" transform="rotate(171.9 322.3 432.4)"/><ellipse cx="323.6" cy="428.1" rx="3.8" ry="3.1" transform="rotate(48.2 323.6 428.1)"/><ellipse cx="328.2" cy="432" rx="3.6" ry="2.8" transform="rotate(23.4 328.2 432)"/><ellipse cx="331.7" cy="433.5" rx="3.4" ry="2.7" transform="rotate(47.3 331.7 433.5)"/><ellipse cx="332.8" cy="428.3" rx="3.5" ry="2.8" transform="rotate(11.4 332.8 428.3)"/><ellipse cx="334.5" cy="424.3" rx="3.7" ry="3" transform="rotate(4.9 334.5 424.3)"/><ellipse cx="338.5" cy="427.6" rx="3.3" ry="2.7" transform="rotate(64.3 338.5 427.6)"/><ellipse cx="342.4" cy="430.8" rx="4" ry="3.2" transform="rotate(110.2 342.4 430.8)"/><ellipse cx="343.3" cy="424.5" rx="3.6" ry="2.9" transform="rotate(65.2 343.3 424.5)"/><ellipse cx="345.3" cy="420.5" rx="3.2" ry="2.6" transform="rotate(105.2 345.3 420.5)"/><ellipse cx="349.5" cy="425.2" rx="3.8" ry="3.1" transform="rotate(17.2 349.5 425.2)"/><ellipse cx="353" cy="427.4" rx="3.4" ry="2.7" transform="rotate(127.7 353 427.4)"/><ellipse cx="354.3" cy="421.7" rx="4" ry="3.2" transform="rotate(143.1 354.3 421.7)"/><ellipse cx="356.2" cy="417.4" rx="3.5" ry="2.8" transform="rotate(164.7 356.2 417.4)"/><ellipse cx="360.2" cy="422" rx="3.6" ry="2.9" transform="rotate(79.5 360.2 422)"/><ellipse cx="363.7" cy="425" rx="4" ry="3.2" transform="rotate(95.9 363.7 425)"/><ellipse cx="365.4" cy="419.6" rx="3.7" ry="3" transform="rotate(18.6 365.4 419.6)"/><ellipse cx="367.4" cy="415.5" rx="3.6" ry="2.9" transform="rotate(9.4 367.4 415.5)"/><ellipse cx="371.1" cy="420.1" rx="3.3" ry="2.6" transform="rotate(103.9 371.1 420.1)"/><ellipse cx="374.6" cy="422.3" rx="4" ry="3.2" transform="rotate(70.7 374.6 422.3)"/><ellipse cx="376.2" cy="416.5" rx="3.5" ry="2.8" transform="rotate(36.2 376.2 416.5)"/><ellipse cx="378.3" cy="413" rx="3.5" ry="2.8" transform="rotate(135.2 378.3 413)"/><ellipse cx="382" cy="417.2" rx="3.5" ry="2.8" transform="rotate(44.7 382 417.2)"/><ellipse cx="385.5" cy="420.8" rx="3.9" ry="3.2" transform="rotate(153 385.5 420.8)"/><ellipse cx="387.3" cy="414.9" rx="3.6" ry="2.9" transform="rotate(25.7 387.3 414.9)"/><ellipse cx="389.4" cy="411.3" rx="3.6" ry="2.9" transform="rotate(6.8 389.4 411.3)"/><ellipse cx="393" cy="415.2" rx="3.3" ry="2.7" transform="rotate(129.2 393 415.2)"/><ellipse cx="396.3" cy="418.9" rx="3.4" ry="2.7" transform="rotate(143.5 396.3 418.9)"/><ellipse cx="398.3" cy="412.8" rx="3.8" ry="3" transform="rotate(155.4 398.3 412.8)"/><ellipse cx="400.6" cy="409.3" rx="3.9" ry="3.1" transform="rotate(67.8 400.6 409.3)"/><ellipse cx="404" cy="413.3" rx="3.7" ry="2.9" transform="rotate(105.6 404 413.3)"/><ellipse cx="407.2" cy="416.5" rx="3.6" ry="2.8" transform="rotate(57.1 407.2 416.5)"/><ellipse cx="409.5" cy="410.9" rx="3.5" ry="2.8" transform="rotate(68.9 409.5 410.9)"/><ellipse cx="411.9" cy="407.6" rx="3.8" ry="3.1" transform="rotate(71.8 411.9 407.6)"/><ellipse cx="415.2" cy="412.8" rx="3.9" ry="3.1" transform="rotate(166.3 415.2 412.8)"/><ellipse cx="418.3" cy="415.6" rx="3.8" ry="3" transform="rotate(96.6 418.3 415.6)"/><ellipse cx="420.6" cy="410.3" rx="3.5" ry="2.8" transform="rotate(106.8 420.6 410.3)"/><ellipse cx="423" cy="406.4" rx="3.7" ry="2.9" transform="rotate(51.2 423 406.4)"/><ellipse cx="426.2" cy="410.6" rx="3.3" ry="2.6" transform="rotate(64.1 426.2 410.6)"/><ellipse cx="429.5" cy="414.2" rx="3.9" ry="3.1" transform="rotate(128.6 429.5 414.2)"/><ellipse cx="431.8" cy="408.5" rx="4" ry="3.2" transform="rotate(49.4 431.8 408.5)"/><ellipse cx="434.2" cy="405.3" rx="3.3" ry="2.6" transform="rotate(135.6 434.2 405.3)"/><ellipse cx="437.3" cy="410.1" rx="4" ry="3.2" transform="rotate(161.5 437.3 410.1)"/><ellipse cx="440.6" cy="413.2" rx="3.9" ry="3.2" transform="rotate(133 440.6 413.2)"/><ellipse cx="442.8" cy="407.8" rx="3.4" ry="2.7" transform="rotate(93 442.8 407.8)"/><ellipse cx="445.5" cy="404.5" rx="3.4" ry="2.7" transform="rotate(175.4 445.5 404.5)"/><ellipse cx="448.6" cy="409" rx="3.6" ry="2.9" transform="rotate(0.5 448.6 409)"/><ellipse cx="451.6" cy="412" rx="3.4" ry="2.7" transform="rotate(117.6 451.6 412)"/><ellipse cx="454" cy="407.2" rx="4" ry="3.2" transform="rotate(110.4 454 407.2)"/><ellipse cx="456.5" cy="403.1" rx="3.3" ry="2.7" transform="rotate(124 456.5 403.1)"/><ellipse cx="459.9" cy="408.2" rx="3.8" ry="3.1" transform="rotate(67.3 459.9 408.2)"/><ellipse cx="462.9" cy="411.7" rx="3.4" ry="2.7" transform="rotate(55 462.9 411.7)"/><ellipse cx="465.3" cy="405.9" rx="3.8" ry="3" transform="rotate(161.5 465.3 405.9)"/><ellipse cx="467.9" cy="402.2" rx="3.8" ry="3" transform="rotate(138 467.9 402.2)"/><ellipse cx="471" cy="407.2" rx="3.3" ry="2.6" transform="rotate(101.9 471 407.2)"/><ellipse cx="474" cy="411.1" rx="4" ry="3.2" transform="rotate(131 474 411.1)"/><ellipse cx="552.1" cy="405.3" rx="3.6" ry="2.9" transform="rotate(95.2 552.1 405.3)"/><ellipse cx="555.1" cy="402.5" rx="3.5" ry="2.8" transform="rotate(50.5 555.1 402.5)"/><ellipse cx="557.6" cy="407.4" rx="4.1" ry="3.2" transform="rotate(33.7 557.6 407.4)"/><ellipse cx="560.3" cy="410.4" rx="3.3" ry="2.7" transform="rotate(101.3 560.3 410.4)"/><ellipse cx="563.3" cy="406" rx="3.4" ry="2.7" transform="rotate(34.3 563.3 406)"/><ellipse cx="566.3" cy="402.8" rx="3.8" ry="3" transform="rotate(124.2 566.3 402.8)"/><ellipse cx="568.8" cy="408.2" rx="3.3" ry="2.6" transform="rotate(87.2 568.8 408.2)"/><ellipse cx="571.3" cy="411.8" rx="4" ry="3.2" transform="rotate(57.3 571.3 411.8)"/><ellipse cx="574.4" cy="406.9" rx="3.8" ry="3" transform="rotate(166.8 574.4 406.9)"/><ellipse cx="577.5" cy="403.1" rx="3.8" ry="3.1" transform="rotate(151.3 577.5 403.1)"/><ellipse cx="579.8" cy="408.6" rx="3.3" ry="2.7" transform="rotate(34.8 579.8 408.6)"/><ellipse cx="582.6" cy="411.9" rx="3.3" ry="2.6" transform="rotate(27.4 582.6 411.9)"/><ellipse cx="585.7" cy="407.5" rx="3.3" ry="2.7" transform="rotate(136.5 585.7 407.5)"/><ellipse cx="588.7" cy="404.5" rx="3.9" ry="3.1" transform="rotate(144.7 588.7 404.5)"/><ellipse cx="591.2" cy="409.8" rx="4" ry="3.2" transform="rotate(172.2 591.2 409.8)"/><ellipse cx="593.6" cy="413.4" rx="4.1" ry="3.2" transform="rotate(18.6 593.6 413.4)"/><ellipse cx="596.8" cy="408" rx="3.3" ry="2.6" transform="rotate(37.2 596.8 408)"/><ellipse cx="600" cy="405.2" rx="3.6" ry="2.9" transform="rotate(122.5 600 405.2)"/><ellipse cx="602.1" cy="410.9" rx="3.3" ry="2.6" transform="rotate(72.6 602.1 410.9)"/><ellipse cx="604.6" cy="414.4" rx="3.5" ry="2.8" transform="rotate(21.2 604.6 414.4)"/><ellipse cx="608.1" cy="409.7" rx="3.5" ry="2.8" transform="rotate(123.1 608.1 409.7)"/><ellipse cx="611.1" cy="406.5" rx="4" ry="3.2" transform="rotate(170.1 611.1 406.5)"/><ellipse cx="613.4" cy="411.5" rx="3.9" ry="3.1" transform="rotate(129.8 613.4 411.5)"/><ellipse cx="615.8" cy="415.4" rx="3.3" ry="2.7" transform="rotate(86.2 615.8 415.4)"/><ellipse cx="619.2" cy="410.8" rx="3.9" ry="3.1" transform="rotate(165.3 619.2 410.8)"/><ellipse cx="622.4" cy="407.8" rx="3.5" ry="2.8" transform="rotate(89.8 622.4 407.8)"/><ellipse cx="624.5" cy="413.5" rx="3.9" ry="3.1" transform="rotate(103.6 624.5 413.5)"/><ellipse cx="626.8" cy="416.9" rx="3.5" ry="2.8" transform="rotate(152.6 626.8 416.9)"/><ellipse cx="630.2" cy="412.5" rx="3.3" ry="2.6" transform="rotate(75.7 630.2 412.5)"/><ellipse cx="633.5" cy="409.2" rx="3.8" ry="3" transform="rotate(13.2 633.5 409.2)"/><ellipse cx="635.6" cy="414.8" rx="3.3" ry="2.6" transform="rotate(86 635.6 414.8)"/><ellipse cx="637.6" cy="419.3" rx="3.7" ry="3" transform="rotate(69.5 637.6 419.3)"/><ellipse cx="641.3" cy="414.6" rx="3.3" ry="2.6" transform="rotate(64 641.3 414.6)"/><ellipse cx="644.5" cy="411.6" rx="3.2" ry="2.6" transform="rotate(137.9 644.5 411.6)"/><ellipse cx="646.5" cy="416.7" rx="3.2" ry="2.6" transform="rotate(45.2 646.5 416.7)"/><ellipse cx="648.7" cy="420.6" rx="3.6" ry="2.8" transform="rotate(93 648.7 420.6)"/><ellipse cx="652.4" cy="415.7" rx="3.4" ry="2.7" transform="rotate(175.4 652.4 415.7)"/><ellipse cx="655.7" cy="413.3" rx="3.6" ry="2.9" transform="rotate(15.4 655.7 413.3)"/><ellipse cx="657.5" cy="418.7" rx="4" ry="3.2" transform="rotate(123.7 657.5 418.7)"/><ellipse cx="659.6" cy="422.8" rx="3.3" ry="2.6" transform="rotate(70.7 659.6 422.8)"/><ellipse cx="663.2" cy="418.7" rx="3.6" ry="2.9" transform="rotate(106.8 663.2 418.7)"/><ellipse cx="666.7" cy="416.1" rx="3.8" ry="3" transform="rotate(114.5 666.7 416.1)"/><ellipse cx="668.6" cy="420.8" rx="3.3" ry="2.6" transform="rotate(138.5 668.6 420.8)"/><ellipse cx="670.4" cy="425.1" rx="4" ry="3.2" transform="rotate(148.6 670.4 425.1)"/><ellipse cx="674.2" cy="421.3" rx="3.6" ry="2.8" transform="rotate(179.8 674.2 421.3)"/><ellipse cx="677.7" cy="418.5" rx="4" ry="3.2" transform="rotate(26.7 677.7 418.5)"/><ellipse cx="679.2" cy="424.2" rx="3.6" ry="2.9" transform="rotate(175 679.2 424.2)"/><ellipse cx="681" cy="428.4" rx="3.4" ry="2.7" transform="rotate(75.9 681 428.4)"/><ellipse cx="685.2" cy="423.6" rx="3.6" ry="2.9" transform="rotate(51.6 685.2 423.6)"/><ellipse cx="688.7" cy="421.4" rx="3.3" ry="2.7" transform="rotate(30.5 688.7 421.4)"/><ellipse cx="689.9" cy="426.9" rx="3.3" ry="2.6" transform="rotate(68.6 689.9 426.9)"/><ellipse cx="691.5" cy="431.4" rx="4" ry="3.2" transform="rotate(35.4 691.5 431.4)"/><ellipse cx="696" cy="426.5" rx="3.9" ry="3.1" transform="rotate(172.9 696 426.5)"/><ellipse cx="699.6" cy="424.8" rx="3.3" ry="2.7" transform="rotate(42.6 699.6 424.8)"/><ellipse cx="700.4" cy="430.8" rx="4" ry="3.2" transform="rotate(5.6 700.4 430.8)"/><ellipse cx="702.1" cy="434.2" rx="3.6" ry="2.9" transform="rotate(48 702.1 434.2)"/><ellipse cx="706.3" cy="431" rx="3.5" ry="2.8" transform="rotate(139.5 706.3 431)"/><ellipse cx="710.5" cy="428.4" rx="3.7" ry="2.9" transform="rotate(175.5 710.5 428.4)"/><ellipse cx="710.8" cy="434.6" rx="3.3" ry="2.6" transform="rotate(20 710.8 434.6)"/><ellipse cx="712" cy="438.8" rx="3.5" ry="2.8" transform="rotate(66.4 712 438.8)"/><ellipse cx="716.8" cy="435.2" rx="3.7" ry="3" transform="rotate(173.9 716.8 435.2)"/><ellipse cx="720.9" cy="433.2" rx="3.7" ry="3" transform="rotate(47.4 720.9 433.2)"/><ellipse cx="721" cy="439.3" rx="3.9" ry="3.1" transform="rotate(24 721 439.3)"/><ellipse cx="721.8" cy="443.6" rx="3.8" ry="3.1" transform="rotate(1.5 721.8 443.6)"/><ellipse cx="726.5" cy="440.8" rx="3.6" ry="2.9" transform="rotate(90.7 726.5 440.8)"/><ellipse cx="730.9" cy="439.4" rx="3.9" ry="3.1" transform="rotate(10.1 730.9 439.4)"/><ellipse cx="730.4" cy="445.2" rx="3.3" ry="2.6" transform="rotate(69.4 730.4 445.2)"/><ellipse cx="730.5" cy="449.3" rx="3.2" ry="2.6" transform="rotate(53.6 730.5 449.3)"/><ellipse cx="735.8" cy="447.3" rx="3.8" ry="3" transform="rotate(166.5 735.8 447.3)"/><ellipse cx="740.4" cy="447.1" rx="3.7" ry="2.9" transform="rotate(128.4 740.4 447.1)"/><ellipse cx="737.9" cy="453" rx="4.1" ry="3.3" transform="rotate(177.8 737.9 453)"/><ellipse cx="736.7" cy="456.7" rx="3.7" ry="2.9" transform="rotate(167.7 736.7 456.7)"/><ellipse cx="743.1" cy="456.4" rx="4.2" ry="3.3" transform="rotate(132.5 743.1 456.4)"/><ellipse cx="747.7" cy="458.4" rx="4.4" ry="3.5" transform="rotate(166.4 747.7 458.4)"/><ellipse cx="742.1" cy="462.5" rx="4.8" ry="3.9" transform="rotate(149.3 742.1 462.5)"/></g>
<g fill="none" stroke="#a8a8a8" stroke-width="1.15"><ellipse cx="740.9" cy="465.5" rx="5.4" ry="4.3" transform="rotate(166 740.9 465.5)"/><ellipse cx="736.8" cy="466.5" rx="5.4" ry="4.3" transform="rotate(169.8 736.8 466.5)"/><ellipse cx="741.7" cy="471.6" rx="6.2" ry="5" transform="rotate(20.4 741.7 471.6)"/><ellipse cx="744.8" cy="477.5" rx="5.6" ry="4.4" transform="rotate(97.9 744.8 477.5)"/><ellipse cx="736.3" cy="474.6" rx="5.3" ry="4.3" transform="rotate(39 736.3 474.6)"/><ellipse cx="731" cy="472.8" rx="6.6" ry="5.3" transform="rotate(137.8 731 472.8)"/><ellipse cx="734.8" cy="481" rx="6.4" ry="5.1" transform="rotate(25 734.8 481)"/><ellipse cx="735.4" cy="486.7" rx="5.5" ry="4.4" transform="rotate(0.3 735.4 486.7)"/><ellipse cx="727.8" cy="481.2" rx="5.6" ry="4.5" transform="rotate(38.8 727.8 481.2)"/><ellipse cx="722.5" cy="477.8" rx="6.5" ry="5.2" transform="rotate(52.1 722.5 477.8)"/><ellipse cx="724.6" cy="486.4" rx="6.1" ry="4.9" transform="rotate(122 724.6 486.4)"/><ellipse cx="725.5" cy="493.8" rx="6.6" ry="5.3" transform="rotate(124.3 725.5 493.8)"/><ellipse cx="718.4" cy="486.6" rx="6.6" ry="5.3" transform="rotate(53.8 718.4 486.6)"/><ellipse cx="713.9" cy="483.7" rx="5.6" ry="4.4" transform="rotate(26.2 713.9 483.7)"/><ellipse cx="715.3" cy="492.9" rx="5.7" ry="4.6" transform="rotate(108.6 715.3 492.9)"/><ellipse cx="714.8" cy="499.3" rx="6.3" ry="5" transform="rotate(60.8 714.8 499.3)"/><ellipse cx="708.8" cy="492.2" rx="6.5" ry="5.2" transform="rotate(86.5 708.8 492.2)"/><ellipse cx="704.1" cy="488" rx="6" ry="4.8" transform="rotate(126.8 704.1 488)"/><ellipse cx="704.7" cy="497.3" rx="6.7" ry="5.3" transform="rotate(4.1 704.7 497.3)"/><ellipse cx="703.5" cy="502.4" rx="6.5" ry="5.2" transform="rotate(3.3 703.5 502.4)"/><ellipse cx="698" cy="495.4" rx="5.8" ry="4.7" transform="rotate(104.1 698 495.4)"/><ellipse cx="694.1" cy="492.1" rx="5.4" ry="4.3" transform="rotate(32.6 694.1 492.1)"/><ellipse cx="693.6" cy="499.5" rx="5.6" ry="4.5" transform="rotate(136 693.6 499.5)"/><ellipse cx="692.6" cy="505.7" rx="6.6" ry="5.3" transform="rotate(62 692.6 505.7)"/><ellipse cx="687.6" cy="499.4" rx="6.1" ry="4.8" transform="rotate(139.6 687.6 499.4)"/><ellipse cx="683.6" cy="495.2" rx="6.4" ry="5.1" transform="rotate(143.5 683.6 495.2)"/><ellipse cx="682.9" cy="502.8" rx="5.4" ry="4.3" transform="rotate(170.2 682.9 502.8)"/><ellipse cx="681.9" cy="510.2" rx="5.8" ry="4.6" transform="rotate(109.9 681.9 510.2)"/><ellipse cx="676.6" cy="501.5" rx="5.8" ry="4.6" transform="rotate(166.4 676.6 501.5)"/><ellipse cx="672.8" cy="497.3" rx="5.8" ry="4.6" transform="rotate(57 672.8 497.3)"/><ellipse cx="672.3" cy="506.7" rx="5.4" ry="4.3" transform="rotate(26.8 672.3 506.7)"/><ellipse cx="670.6" cy="512" rx="6.7" ry="5.4" transform="rotate(29.1 670.6 512)"/><ellipse cx="666.2" cy="505.5" rx="6.7" ry="5.4" transform="rotate(96 666.2 505.5)"/><ellipse cx="662.1" cy="500" rx="5.7" ry="4.5" transform="rotate(106.9 662.1 500)"/><ellipse cx="660.9" cy="508.1" rx="6" ry="4.8" transform="rotate(75.9 660.9 508.1)"/><ellipse cx="659.6" cy="515.4" rx="6.6" ry="5.3" transform="rotate(5.9 659.6 515.4)"/><ellipse cx="655.1" cy="507" rx="6.5" ry="5.2" transform="rotate(23.5 655.1 507)"/><ellipse cx="651.3" cy="501.7" rx="6.6" ry="5.3" transform="rotate(113.5 651.3 501.7)"/><ellipse cx="650.1" cy="510.3" rx="5.5" ry="4.4" transform="rotate(78.2 650.1 510.3)"/><ellipse cx="648.4" cy="517.4" rx="6.5" ry="5.2" transform="rotate(53.1 648.4 517.4)"/><ellipse cx="644.1" cy="509.1" rx="6.7" ry="5.4" transform="rotate(153.4 644.1 509.1)"/><ellipse cx="640.2" cy="503.2" rx="6" ry="4.8" transform="rotate(87.9 640.2 503.2)"/><ellipse cx="639" cy="512.4" rx="6" ry="4.8" transform="rotate(52.4 639 512.4)"/><ellipse cx="637.1" cy="518.9" rx="5.5" ry="4.4" transform="rotate(67.9 637.1 518.9)"/><ellipse cx="632.9" cy="510" rx="6.7" ry="5.3" transform="rotate(112.9 632.9 510)"/><ellipse cx="629.5" cy="505.7" rx="5.8" ry="4.6" transform="rotate(16 629.5 505.7)"/><ellipse cx="627.9" cy="514.8" rx="6.4" ry="5.1" transform="rotate(156.1 627.9 514.8)"/><ellipse cx="625.8" cy="520.6" rx="6.4" ry="5.1" transform="rotate(139.5 625.8 520.6)"/><ellipse cx="621.9" cy="512.1" rx="6.2" ry="5" transform="rotate(136.7 621.9 512.1)"/><ellipse cx="618.4" cy="507.5" rx="6.3" ry="5" transform="rotate(50.6 618.4 507.5)"/><ellipse cx="616.7" cy="516" rx="6.4" ry="5.1" transform="rotate(124.4 616.7 516)"/><ellipse cx="614.6" cy="522.2" rx="6.6" ry="5.3" transform="rotate(116.9 614.6 522.2)"/><ellipse cx="610.9" cy="513.7" rx="5.3" ry="4.3" transform="rotate(98.5 610.9 513.7)"/><ellipse cx="607.5" cy="509" rx="6.3" ry="5" transform="rotate(83.3 607.5 509)"/><ellipse cx="605.5" cy="516.7" rx="6.2" ry="5" transform="rotate(143.6 605.5 516.7)"/><ellipse cx="603.5" cy="523.4" rx="6.2" ry="5" transform="rotate(132.8 603.5 523.4)"/><ellipse cx="599.6" cy="514.5" rx="5.8" ry="4.6" transform="rotate(151.7 599.6 514.5)"/><ellipse cx="596.4" cy="509.1" rx="6.3" ry="5" transform="rotate(175.7 596.4 509.1)"/><ellipse cx="594.3" cy="517.6" rx="6" ry="4.8" transform="rotate(95.3 594.3 517.6)"/><ellipse cx="592.2" cy="524.8" rx="6.5" ry="5.2" transform="rotate(168.7 592.2 524.8)"/><ellipse cx="588.7" cy="516.1" rx="6.3" ry="5" transform="rotate(129.5 588.7 516.1)"/><ellipse cx="585.3" cy="510.3" rx="5.6" ry="4.4" transform="rotate(140.5 585.3 510.3)"/><ellipse cx="583.3" cy="519.2" rx="6.3" ry="5" transform="rotate(75.7 583.3 519.2)"/><ellipse cx="580.9" cy="524.9" rx="6.4" ry="5.1" transform="rotate(114.6 580.9 524.9)"/><ellipse cx="577.6" cy="516.6" rx="5.4" ry="4.3" transform="rotate(28.8 577.6 516.6)"/><ellipse cx="574.2" cy="511.7" rx="6.2" ry="5" transform="rotate(39.4 574.2 511.7)"/><ellipse cx="572" cy="519.8" rx="6.2" ry="5" transform="rotate(7.5 572 519.8)"/><ellipse cx="569.6" cy="525.9" rx="5.6" ry="4.5" transform="rotate(9.7 569.6 525.9)"/><ellipse cx="566.3" cy="518.3" rx="5.8" ry="4.6" transform="rotate(32.7 566.3 518.3)"/><ellipse cx="563.2" cy="512.7" rx="5.4" ry="4.3" transform="rotate(83.8 563.2 512.7)"/><ellipse cx="560.9" cy="521" rx="6.2" ry="4.9" transform="rotate(106.2 560.9 521)"/><ellipse cx="558.3" cy="526.9" rx="6.6" ry="5.3" transform="rotate(0.1 558.3 526.9)"/><ellipse cx="555.1" cy="518.4" rx="5.7" ry="4.6" transform="rotate(73.8 555.1 518.4)"/><ellipse cx="552.1" cy="513.4" rx="6.5" ry="5.2" transform="rotate(67.3 552.1 513.4)"/><ellipse cx="549.6" cy="522" rx="6.2" ry="4.9" transform="rotate(17.1 549.6 522)"/><ellipse cx="547" cy="526.9" rx="5.8" ry="4.6" transform="rotate(104.6 547 526.9)"/><ellipse cx="543.8" cy="517.9" rx="6.5" ry="5.2" transform="rotate(75.4 543.8 517.9)"/><ellipse cx="541.1" cy="512.6" rx="6.2" ry="5" transform="rotate(66.5 541.1 512.6)"/><ellipse cx="538.5" cy="522.2" rx="6.2" ry="4.9" transform="rotate(101.5 538.5 522.2)"/><ellipse cx="535.8" cy="526.5" rx="6.7" ry="5.3" transform="rotate(109.5 535.8 526.5)"/><ellipse cx="532.8" cy="519.2" rx="6.6" ry="5.3" transform="rotate(0.2 532.8 519.2)"/><ellipse cx="529.9" cy="514.1" rx="6.1" ry="4.9" transform="rotate(110.7 529.9 514.1)"/><ellipse cx="527.1" cy="522.4" rx="6.2" ry="5" transform="rotate(160.4 527.1 522.4)"/><ellipse cx="524.6" cy="527.7" rx="5.9" ry="4.7" transform="rotate(40.7 524.6 527.7)"/><ellipse cx="521.7" cy="519.4" rx="6.7" ry="5.3" transform="rotate(68.4 521.7 519.4)"/><ellipse cx="518.8" cy="512.7" rx="6.6" ry="5.3" transform="rotate(107.2 518.8 512.7)"/><ellipse cx="516" cy="522.3" rx="6.7" ry="5.4" transform="rotate(89.3 516 522.3)"/><ellipse cx="513.1" cy="527.6" rx="5.8" ry="4.6" transform="rotate(177.2 513.1 527.6)"/><ellipse cx="510.3" cy="519.1" rx="5.7" ry="4.6" transform="rotate(85.8 510.3 519.1)"/><ellipse cx="507.8" cy="514.1" rx="6.2" ry="5" transform="rotate(79.8 507.8 514.1)"/><ellipse cx="504.9" cy="522.2" rx="6.4" ry="5.1" transform="rotate(148.8 504.9 522.2)"/><ellipse cx="501.9" cy="528.2" rx="6.1" ry="4.9" transform="rotate(49.3 501.9 528.2)"/><ellipse cx="499.2" cy="518.2" rx="6.4" ry="5.1" transform="rotate(44.2 499.2 518.2)"/><ellipse cx="496.5" cy="513.7" rx="5.5" ry="4.4" transform="rotate(178 496.5 513.7)"/><ellipse cx="493.5" cy="522" rx="6.2" ry="4.9" transform="rotate(85.4 493.5 522)"/><ellipse cx="490.8" cy="526.9" rx="6.2" ry="4.9" transform="rotate(133.8 490.8 526.9)"/><ellipse cx="488.1" cy="519.3" rx="6.4" ry="5.1" transform="rotate(54.1 488.1 519.3)"/><ellipse cx="485.5" cy="512.9" rx="5.8" ry="4.6" transform="rotate(53.4 485.5 512.9)"/><ellipse cx="482.4" cy="521.2" rx="6" ry="4.8" transform="rotate(65 482.4 521.2)"/><ellipse cx="479.4" cy="526.3" rx="6.1" ry="4.9" transform="rotate(6.6 479.4 526.3)"/><ellipse cx="476.9" cy="518.7" rx="6" ry="4.8" transform="rotate(165 476.9 518.7)"/><ellipse cx="474.4" cy="511.9" rx="6.1" ry="4.9" transform="rotate(2.6 474.4 511.9)"/><ellipse cx="471.2" cy="520.3" rx="5.9" ry="4.7" transform="rotate(103.6 471.2 520.3)"/><ellipse cx="468.1" cy="525.9" rx="6.2" ry="5" transform="rotate(86.7 468.1 525.9)"/><ellipse cx="465.8" cy="517" rx="5.9" ry="4.7" transform="rotate(70.5 465.8 517)"/><ellipse cx="463.3" cy="511.3" rx="5.6" ry="4.5" transform="rotate(53.4 463.3 511.3)"/><ellipse cx="460" cy="519.6" rx="5.4" ry="4.3" transform="rotate(150.5 460 519.6)"/><ellipse cx="456.9" cy="525.2" rx="5.9" ry="4.7" transform="rotate(51.5 456.9 525.2)"/><ellipse cx="454.7" cy="516.5" rx="6.6" ry="5.3" transform="rotate(25.7 454.7 516.5)"/><ellipse cx="452.1" cy="511.2" rx="6.1" ry="4.9" transform="rotate(89.6 452.1 511.2)"/><ellipse cx="448.7" cy="519.6" rx="5.5" ry="4.4" transform="rotate(105.5 448.7 519.6)"/><ellipse cx="445.6" cy="524.2" rx="5.4" ry="4.3" transform="rotate(41.4 445.6 524.2)"/><ellipse cx="443.6" cy="515.6" rx="6.4" ry="5.1" transform="rotate(119.4 443.6 515.6)"/><ellipse cx="441" cy="511" rx="6.3" ry="5.1" transform="rotate(176.2 441 511)"/><ellipse cx="437.7" cy="517.5" rx="6.3" ry="5" transform="rotate(8.8 437.7 517.5)"/><ellipse cx="434.2" cy="523.1" rx="5.6" ry="4.5" transform="rotate(116.2 434.2 523.1)"/><ellipse cx="432.4" cy="514.3" rx="6.3" ry="5.1" transform="rotate(24.2 432.4 514.3)"/><ellipse cx="430" cy="509.5" rx="6.6" ry="5.3" transform="rotate(27 430 509.5)"/><ellipse cx="426.5" cy="517.1" rx="5.9" ry="4.7" transform="rotate(29 426.5 517.1)"/><ellipse cx="423" cy="522.3" rx="5.4" ry="4.3" transform="rotate(19.5 423 522.3)"/><ellipse cx="421" cy="514" rx="5.4" ry="4.3" transform="rotate(10.4 421 514)"/><ellipse cx="419.2" cy="507.8" rx="6.4" ry="5.1" transform="rotate(158.1 419.2 507.8)"/><ellipse cx="415.2" cy="516.6" rx="5.9" ry="4.7" transform="rotate(56.6 415.2 516.6)"/><ellipse cx="411.8" cy="521" rx="6" ry="4.8" transform="rotate(168.9 411.8 521)"/><ellipse cx="410.1" cy="512.7" rx="5.4" ry="4.3" transform="rotate(125.5 410.1 512.7)"/><ellipse cx="408" cy="507.1" rx="6.2" ry="5" transform="rotate(91.1 408 507.1)"/><ellipse cx="404.3" cy="513.8" rx="6.1" ry="4.9" transform="rotate(111.8 404.3 513.8)"/><ellipse cx="400.6" cy="520" rx="6.1" ry="4.9" transform="rotate(45.8 400.6 520)"/><ellipse cx="399" cy="510.4" rx="6" ry="4.8" transform="rotate(24.1 399 510.4)"/><ellipse cx="397.1" cy="505.3" rx="5.8" ry="4.7" transform="rotate(132.6 397.1 505.3)"/><ellipse cx="393.1" cy="513.3" rx="6.3" ry="5.1" transform="rotate(117.9 393.1 513.3)"/><ellipse cx="389.3" cy="518.5" rx="6.3" ry="5" transform="rotate(16.4 389.3 518.5)"/><ellipse cx="387.8" cy="509.7" rx="6.2" ry="4.9" transform="rotate(42.9 387.8 509.7)"/><ellipse cx="386.5" cy="502.5" rx="6" ry="4.8" transform="rotate(58.2 386.5 502.5)"/><ellipse cx="382.2" cy="510.4" rx="5.4" ry="4.3" transform="rotate(130.5 382.2 510.4)"/><ellipse cx="378.1" cy="516.6" rx="5.5" ry="4.4" transform="rotate(171.4 378.1 516.6)"/><ellipse cx="377.2" cy="506.8" rx="5.6" ry="4.5" transform="rotate(20.9 377.2 506.8)"/><ellipse cx="375.5" cy="500.2" rx="6.3" ry="5" transform="rotate(147.7 375.5 500.2)"/><ellipse cx="370.9" cy="509.3" rx="6.2" ry="5" transform="rotate(63.8 370.9 509.3)"/><ellipse cx="366.9" cy="514" rx="5.8" ry="4.6" transform="rotate(110.5 366.9 514)"/><ellipse cx="366.1" cy="505" rx="5.9" ry="4.7" transform="rotate(24.6 366.1 505)"/><ellipse cx="364.8" cy="498.1" rx="6.2" ry="5" transform="rotate(144.8 364.8 498.1)"/><ellipse cx="360" cy="506.3" rx="6.5" ry="5.2" transform="rotate(93.1 360 506.3)"/><ellipse cx="356.1" cy="510.9" rx="6.1" ry="4.9" transform="rotate(133.2 356.1 510.9)"/><ellipse cx="355.2" cy="502.3" rx="5.5" ry="4.4" transform="rotate(6 355.2 502.3)"/><ellipse cx="353.9" cy="496.5" rx="5.4" ry="4.3" transform="rotate(160.1 353.9 496.5)"/><ellipse cx="349.2" cy="503.5" rx="6.4" ry="5.1" transform="rotate(0.1 349.2 503.5)"/><ellipse cx="344.9" cy="508.1" rx="6.6" ry="5.3" transform="rotate(111.5 344.9 508.1)"/><ellipse cx="344.6" cy="499.4" rx="6" ry="4.8" transform="rotate(18 344.6 499.4)"/><ellipse cx="343.3" cy="493.6" rx="5.5" ry="4.4" transform="rotate(67.4 343.3 493.6)"/><ellipse cx="338.3" cy="500.4" rx="6.6" ry="5.2" transform="rotate(27.4 338.3 500.4)"/><ellipse cx="333.8" cy="505.1" rx="5.7" ry="4.6" transform="rotate(29.1 333.8 505.1)"/><ellipse cx="333.9" cy="496.2" rx="5.6" ry="4.5" transform="rotate(86.8 333.9 496.2)"/><ellipse cx="332.9" cy="490.4" rx="6.6" ry="5.3" transform="rotate(66.4 332.9 490.4)"/><ellipse cx="328" cy="495.9" rx="6.3" ry="5" transform="rotate(121.3 328 495.9)"/><ellipse cx="323" cy="500.9" rx="6.6" ry="5.3" transform="rotate(21.2 323 500.9)"/><ellipse cx="323.6" cy="491.7" rx="5.7" ry="4.6" transform="rotate(121.4 323.6 491.7)"/><ellipse cx="323.4" cy="485.4" rx="5.5" ry="4.4" transform="rotate(36.2 323.4 485.4)"/><ellipse cx="317" cy="493.1" rx="5.6" ry="4.5" transform="rotate(14.1 317 493.1)"/><ellipse cx="312.2" cy="496.3" rx="6.7" ry="5.3" transform="rotate(65.6 312.2 496.3)"/><ellipse cx="313.3" cy="487.7" rx="6" ry="4.8" transform="rotate(51 313.3 487.7)"/><ellipse cx="313.9" cy="480.9" rx="6.3" ry="5.1" transform="rotate(29.4 313.9 480.9)"/><ellipse cx="307" cy="487.6" rx="6.3" ry="5" transform="rotate(169.3 307 487.6)"/><ellipse cx="301.9" cy="490.2" rx="5.9" ry="4.7" transform="rotate(175.6 301.9 490.2)"/><ellipse cx="303.4" cy="482.5" rx="5.4" ry="4.3" transform="rotate(140.3 303.4 482.5)"/><ellipse cx="305" cy="475.9" rx="5.4" ry="4.3" transform="rotate(98.7 305 475.9)"/><ellipse cx="298.3" cy="480" rx="6" ry="4.8" transform="rotate(63 298.3 480)"/><ellipse cx="291.3" cy="483.4" rx="5.4" ry="4.3" transform="rotate(161.8 291.3 483.4)"/><ellipse cx="295.7" cy="474.8" rx="6.6" ry="5.3" transform="rotate(9.7 295.7 474.8)"/><ellipse cx="298.1" cy="469.7" rx="5.3" ry="4.2" transform="rotate(71.5 298.1 469.7)"/><ellipse cx="289.6" cy="472.3" rx="5.4" ry="4.3" transform="rotate(73.3 289.6 472.3)"/><ellipse cx="284" cy="471.2" rx="4.9" ry="3.9" transform="rotate(6.8 284 471.2)"/><ellipse cx="291.2" cy="465.7" rx="4.8" ry="3.8" transform="rotate(91.6 291.2 465.7)"/><ellipse cx="294.5" cy="463.2" rx="4.9" ry="3.9" transform="rotate(15.2 294.5 463.2)"/></g>
<path d="M746,466.3 l-0,0.2 M736.8,466.7 l-1.6,-1.2 M739.4,469.9 l1.7,-0.7 M742.7,466.7 l0.9,-0.7 M727.3,469 l-0.9,-0.7 M738.9,484 l-1.2,-1.1 M727.6,476.7 l0.2,-1.5 M724.8,473.2 l-0,1.1 M720.5,483.8 l-1.4,0.7 M718.1,482.3 l-1.4,-1.3 M719.4,501.4 l-0.1,0.4 M701.3,493.1 l1.2,-1.1 M696.6,499.8 l-1.8,0.8 M695.5,510.1 l-1,-0.7 M687.9,497.9 l-0.5,-1.3 M679.8,499.8 l0.5,-1 M677.2,510.5 l0.7,-0.2 M671.8,511 l-0,0.1 M661.9,503.5 l1.2,-0.6 M659.3,520.7 l-0.5,1.2 M651.5,503.3 l0.5,1.4 M651.9,496.4 l-0.6,-1.2 M644.9,502.4 l-0.4,0.4 M633.4,521.3 l-0.6,-1.2 M631.8,504.8 l-0.3,1.1 M628.1,510.1 l-1.2,1.3 M614.1,510 l-1,-1.4 M618.7,525.5 l0,1.3 M611.5,512 l1,-1.2 M608.5,523 l0.2,-0.2 M595.2,513 l1.7,-0.2 M591.4,508.6 l1.5,-0.4 M590.6,511.4 l0.1,-1.1 M589.4,508.7 l-0.1,-0.2 M574,506.7 l-0.9,-0.1 M567.7,522.7 l0.7,0.7 M567.5,512.7 l-1.3,-1 M556.2,522.6 l0.4,1.1 M556.7,521.9 l-1.4,0.2 M552.3,522 l-1.6,0.7 M552.6,508.2 l-0.6,0.3 M550.2,523.6 l1.5,-0.7 M547.5,514.3 l-1.3,-0.2 M546,511.9 l-1.3,0.5 M537.7,517.4 l-0.7,1.1 M529.7,518.2 l0.6,-0.5 M505.7,519.3 l-1.8,0.9 M497.2,527.1 l-0.1,-1.1 M504.3,517.4 l1.3,-0.8 M487.7,523 l-1,-0.7 M485.3,515.1 l0.3,0.7 M480.8,525.7 l0.8,-0.4 M472.5,507.4 l-1.6,-0.7 M472.7,527.6 l-1.7,0.8 M461.2,518.2 l-0.2,0.9 M458.9,510.7 l-1.7,0.9 M444.8,507.7 l1.8,-0.9 M435,521.8 l-1.4,-0.4 M435,527.5 l-1.8,-0.2 M431.7,509.3 l-0.4,-1 M417.5,516.5 l-0.2,-0.3 M414.3,509.2 l1,0.6 M396.4,506.4 l0.6,1.1 M394.9,518 l-0.6,-0.7 M381.8,501.5 l1.2,-0.4 M378.8,507.7 l-0.5,-1.1 M382.6,516.8 l-1.3,-0.2 M381.7,506.9 l0.2,1.4 M375.3,507 l-1.5,-1 M371.2,515.6 l0.4,0.8 M367.7,500.6 l-0.2,1.3 M351.7,513 l-0.2,1 M354,506.5 l1.1,-1.3 M346.6,499.1 l0.3,-1.2 M342.5,503.7 l1.3,0.8 M341.4,489.6 l-1.4,0.1 M335,496.4 l1.5,0.4 M329.2,504.7 l-0.1,-0.2 M333.1,500.7 l-0.2,-1.3 M326.8,500.8 l-1.5,-0.6 M327.4,494.3 l-0.6,1.3 M320.9,489.1 l-1,0.5 M320.7,495.7 l1.3,-0.5 M316.6,484.2 l-1.6,-0.8 M313.4,485.9 l1.2,0 M302,487.3 l1.2,0.2 M299.3,486.3 l0.4,-0.3 M306.4,485.7 l-0.2,1.1 M302.2,479.1 l0.4,0.3 M293.7,481.7 l0.8,-1.4 M291.5,479 l1.5,-1.3 M292,471 l-0.8,0.5 M294,470.9 l-1.2,-0.5 M288.8,456 l-0.6,0.4 M298.5,453.4 l-0.5,0.9 M300.3,445.1 l1.8,-1.1 M302.2,440.6 l-1.2,-0.3 M311.9,445.4 l0.4,-0.2 M312.4,435.1 l-1.7,1 M318.9,438.1 l0.3,0 M326.7,434.4 l0.4,-1 M330,428.3 l-0.8,0.1 M335,427.2 l1.8,0.9 M335.9,428.3 l-1.7,-1.1 M345.7,430.4 l-0.7,-0.8 M345.6,426.3 l1.8,0.7 M355.8,424.5 l-0.8,-1.3 M355.7,414.6 l-0,-1.5 M361.9,419.7 l1.3,0.7 M368.8,418.9 l-0.8,-1.4 M371.5,423.2 l-1.4,-1.3 M374.3,418.6 l1.6,-0 M385.1,416.7 l-0.7,0.4 M397.9,421.1 l-1.8,0.3 M401.4,412.9 l-0.7,-0.8 M399,406.6 l0.3,-0.7 M409.7,415.2 l-1.4,0.3 M417.3,410.6 l0.5,0.6 M419.5,418.4 l-0.1,0.1 M420.4,407.5 l-0.6,-0.1 M426.6,413.1 l0.4,0.5 M431.2,411.7 l-0.1,0.3 M434.3,411.2 l0.2,-0.9 M443.4,411.9 l-1.7,-0 M445.5,408.4 l-0.8,-1 M447.9,403 l-1.5,-0.4 M454.4,410.4 l-0.8,1.2 M456.4,405.8 l-0.1,-0 M458.4,405.5 l0.8,-0.1 M470.8,411 l0.6,-0.5 M553,400.7 l0.4,0.5 M566.8,406.4 l0.4,-1.3 M571.4,407.1 l0.1,0.7 M582.3,407.7 l-0.2,0.2 M585.1,405 l1.6,-1.2 M599.5,411.1 l0.4,0.6 M610.6,412.9 l1.5,1.3 M619.6,407.7 l0.1,0.5 M630.4,409.3 l0.6,0.2 M638.2,414.1 l-0.7,-0 M638.7,422 l1.5,-0.7 M642.3,412.2 l-0.9,0.5 M647.3,423.1 l-0.9,-0.4 M654.4,417.6 l-1.3,-0.6 M659.6,425.4 l-0.7,0.4 M665.3,420.6 l0.1,-0.7 M667.4,413.1 l-1.4,-0.2 M680.7,417.5 l-1.6,1.2 M682.1,424.3 l-0.9,1.5 M689,429.4 l-0.1,1.2 M699.1,426.3 l0.2,-0.6 M697.2,426 l0.1,-0.1 M703.4,429.8 l-0.1,-0.6 M703.8,432.4 l-1.4,-0.8 M723.6,446 l-1.7,-1.1 M729.4,441 l0.6,-0.5 M729.7,442.3 l-0,-0.9 M732.8,450.4 l-1.5,1.2 M739.7,444.2 l-1.6,1.2 M740.1,457.9 l1.2,0.3 M748,461.9 l-1.6,0.1 M738.5,463.8 l1.4,1.2" stroke="#4a4a4a" stroke-width="1.2" fill="none" stroke-linecap="round"/>
<g fill="#fbfbfb" stroke="#a0a0a0" stroke-width="1.2"><ellipse cx="285.5" cy="637" rx="5.8" ry="3.5" transform="rotate(2.6 285.5 637)"/><ellipse cx="288.8" cy="634.1" rx="5.8" ry="3.5" transform="rotate(12.4 288.8 634.1)"/><ellipse cx="292.4" cy="631.7" rx="5.8" ry="3.5" transform="rotate(17.3 292.4 631.7)"/><ellipse cx="296.2" cy="629.4" rx="5.8" ry="3.5" transform="rotate(21.1 296.2 629.4)"/><ellipse cx="300.1" cy="627.4" rx="5.8" ry="3.5" transform="rotate(23.8 300.1 627.4)"/><ellipse cx="304.1" cy="625.5" rx="5.8" ry="3.5" transform="rotate(27 304.1 625.5)"/><ellipse cx="308.2" cy="624" rx="5.8" ry="3.5" transform="rotate(31.9 308.2 624)"/><ellipse cx="312.4" cy="622.7" rx="5.8" ry="3.5" transform="rotate(33.7 312.4 622.7)"/><ellipse cx="316.6" cy="621.5" rx="5.8" ry="3.5" transform="rotate(34.2 316.6 621.5)"/><ellipse cx="320.9" cy="620.3" rx="5.8" ry="3.5" transform="rotate(33.4 320.9 620.3)"/><ellipse cx="325.1" cy="619" rx="5.8" ry="3.5" transform="rotate(31.6 325.1 619)"/><ellipse cx="329.2" cy="617.6" rx="5.8" ry="3.5" transform="rotate(30.7 329.2 617.6)"/><ellipse cx="333.4" cy="616.1" rx="5.8" ry="3.5" transform="rotate(30.4 333.4 616.1)"/><ellipse cx="337.5" cy="614.6" rx="5.8" ry="3.5" transform="rotate(30.7 337.5 614.6)"/><ellipse cx="341.7" cy="613.2" rx="5.8" ry="3.5" transform="rotate(31.6 341.7 613.2)"/><ellipse cx="345.9" cy="611.8" rx="5.8" ry="3.5" transform="rotate(33.2 345.9 611.8)"/><ellipse cx="350.1" cy="610.6" rx="5.8" ry="3.5" transform="rotate(32.7 350.1 610.6)"/><ellipse cx="354.3" cy="609.3" rx="5.8" ry="3.5" transform="rotate(33.6 354.3 609.3)"/><ellipse cx="358.5" cy="608.1" rx="5.8" ry="3.5" transform="rotate(35.8 358.5 608.1)"/><ellipse cx="362.8" cy="607.1" rx="5.8" ry="3.5" transform="rotate(38.2 362.8 607.1)"/><ellipse cx="367.1" cy="606.3" rx="5.8" ry="3.5" transform="rotate(40 367.1 606.3)"/><ellipse cx="371.5" cy="605.6" rx="5.8" ry="3.5" transform="rotate(40.7 371.5 605.6)"/><ellipse cx="375.8" cy="604.9" rx="5.8" ry="3.5" transform="rotate(41 375.8 604.9)"/><ellipse cx="380.2" cy="604.2" rx="5.8" ry="3.5" transform="rotate(41.4 380.2 604.2)"/><ellipse cx="384.5" cy="603.6" rx="5.8" ry="3.5" transform="rotate(41.6 384.5 603.6)"/><ellipse cx="388.9" cy="602.9" rx="5.8" ry="3.5" transform="rotate(41.8 388.9 602.9)"/><ellipse cx="393.2" cy="602.3" rx="5.8" ry="3.5" transform="rotate(42.2 393.2 602.3)"/><ellipse cx="397.6" cy="601.7" rx="5.8" ry="3.5" transform="rotate(42.4 397.6 601.7)"/><ellipse cx="402" cy="601.1" rx="5.8" ry="3.5" transform="rotate(42.6 402 601.1)"/><ellipse cx="406.3" cy="600.6" rx="5.8" ry="3.5" transform="rotate(42.8 406.3 600.6)"/><ellipse cx="410.7" cy="600" rx="5.8" ry="3.5" transform="rotate(43.3 410.7 600)"/><ellipse cx="415.1" cy="599.5" rx="5.8" ry="3.5" transform="rotate(43.6 415.1 599.5)"/><ellipse cx="419.4" cy="599.1" rx="5.8" ry="3.5" transform="rotate(43.9 419.4 599.1)"/><ellipse cx="423.8" cy="598.6" rx="5.8" ry="3.5" transform="rotate(44.6 423.8 598.6)"/><ellipse cx="428.2" cy="598.2" rx="5.8" ry="3.5" transform="rotate(44.9 428.2 598.2)"/><ellipse cx="432.6" cy="597.8" rx="5.8" ry="3.5" transform="rotate(45.2 432.6 597.8)"/><ellipse cx="437" cy="597.5" rx="5.8" ry="3.5" transform="rotate(45.7 437 597.5)"/><ellipse cx="441.4" cy="597.2" rx="5.8" ry="3.5" transform="rotate(45.9 441.4 597.2)"/><ellipse cx="445.7" cy="596.9" rx="5.8" ry="3.5" transform="rotate(46.3 445.7 596.9)"/><ellipse cx="450.1" cy="596.6" rx="5.8" ry="3.5" transform="rotate(46.5 450.1 596.6)"/><ellipse cx="454.5" cy="596.3" rx="5.8" ry="3.5" transform="rotate(46.6 454.5 596.3)"/><ellipse cx="458.9" cy="596.1" rx="5.8" ry="3.5" transform="rotate(46.9 458.9 596.1)"/><ellipse cx="463.3" cy="595.8" rx="5.8" ry="3.5" transform="rotate(47 463.3 595.8)"/><ellipse cx="467.7" cy="595.6" rx="5.8" ry="3.5" transform="rotate(47.1 467.7 595.6)"/><ellipse cx="555.7" cy="595.5" rx="5.8" ry="3.5" transform="rotate(52.6 555.7 595.5)"/><ellipse cx="560.1" cy="595.7" rx="5.8" ry="3.5" transform="rotate(52.6 560.1 595.7)"/><ellipse cx="564.5" cy="595.9" rx="5.8" ry="3.5" transform="rotate(52.6 564.5 595.9)"/><ellipse cx="568.9" cy="596.1" rx="5.8" ry="3.5" transform="rotate(52.7 568.9 596.1)"/><ellipse cx="573.3" cy="596.3" rx="5.8" ry="3.5" transform="rotate(52.8 573.3 596.3)"/><ellipse cx="577.6" cy="596.6" rx="5.8" ry="3.5" transform="rotate(53 577.6 596.6)"/><ellipse cx="582" cy="596.8" rx="5.8" ry="3.5" transform="rotate(53.2 582 596.8)"/><ellipse cx="586.4" cy="597.1" rx="5.8" ry="3.5" transform="rotate(53.6 586.4 597.1)"/><ellipse cx="590.8" cy="597.3" rx="5.8" ry="3.5" transform="rotate(53.9 590.8 597.3)"/><ellipse cx="595.2" cy="597.6" rx="5.8" ry="3.5" transform="rotate(54.2 595.2 597.6)"/><ellipse cx="599.6" cy="598" rx="5.8" ry="3.5" transform="rotate(54.6 599.6 598)"/><ellipse cx="604" cy="598.4" rx="5.8" ry="3.5" transform="rotate(55.6 604 598.4)"/><ellipse cx="608.4" cy="598.8" rx="5.8" ry="3.5" transform="rotate(56.2 608.4 598.8)"/><ellipse cx="612.7" cy="599.3" rx="5.8" ry="3.5" transform="rotate(57 612.7 599.3)"/><ellipse cx="617.1" cy="599.9" rx="5.8" ry="3.5" transform="rotate(58.5 617.1 599.9)"/><ellipse cx="621.4" cy="600.6" rx="5.8" ry="3.5" transform="rotate(59.2 621.4 600.6)"/><ellipse cx="625.8" cy="601.4" rx="5.8" ry="3.5" transform="rotate(60.4 625.8 601.4)"/><ellipse cx="630.1" cy="602.2" rx="5.8" ry="3.5" transform="rotate(61.4 630.1 602.2)"/><ellipse cx="634.4" cy="603.1" rx="5.8" ry="3.5" transform="rotate(61.7 634.4 603.1)"/><ellipse cx="638.7" cy="604" rx="5.8" ry="3.5" transform="rotate(62.3 638.7 604)"/><ellipse cx="643" cy="605" rx="5.8" ry="3.5" transform="rotate(62.5 643 605)"/><ellipse cx="647.3" cy="605.9" rx="5.8" ry="3.5" transform="rotate(62.3 647.3 605.9)"/><ellipse cx="651.6" cy="606.8" rx="5.8" ry="3.5" transform="rotate(62 651.6 606.8)"/><ellipse cx="655.9" cy="607.8" rx="5.8" ry="3.5" transform="rotate(63 655.9 607.8)"/><ellipse cx="660.2" cy="608.8" rx="5.8" ry="3.5" transform="rotate(64.1 660.2 608.8)"/><ellipse cx="664.4" cy="609.9" rx="5.8" ry="3.5" transform="rotate(65.2 664.4 609.9)"/><ellipse cx="668.7" cy="611.1" rx="5.8" ry="3.5" transform="rotate(65.3 668.7 611.1)"/><ellipse cx="672.9" cy="612.2" rx="5.8" ry="3.5" transform="rotate(64.7 672.9 612.2)"/><ellipse cx="677.2" cy="613.3" rx="5.8" ry="3.5" transform="rotate(64.1 677.2 613.3)"/><ellipse cx="681.4" cy="614.4" rx="5.8" ry="3.5" transform="rotate(64.1 681.4 614.4)"/><ellipse cx="685.7" cy="615.5" rx="5.8" ry="3.5" transform="rotate(64.5 685.7 615.5)"/><ellipse cx="690" cy="616.6" rx="5.8" ry="3.5" transform="rotate(65.8 690 616.6)"/><ellipse cx="694.2" cy="617.9" rx="5.8" ry="3.5" transform="rotate(67.1 694.2 617.9)"/><ellipse cx="698.4" cy="619.3" rx="5.8" ry="3.5" transform="rotate(70.1 698.4 619.3)"/><ellipse cx="702.4" cy="620.9" rx="5.8" ry="3.5" transform="rotate(72.7 702.4 620.9)"/><ellipse cx="706.4" cy="622.7" rx="5.8" ry="3.5" transform="rotate(75.7 706.4 622.7)"/><ellipse cx="710.4" cy="624.7" rx="5.8" ry="3.5" transform="rotate(77.8 710.4 624.7)"/><ellipse cx="714.3" cy="626.8" rx="5.8" ry="3.5" transform="rotate(78.7 714.3 626.8)"/><ellipse cx="718.1" cy="628.9" rx="5.8" ry="3.5" transform="rotate(78.4 718.1 628.9)"/><ellipse cx="722" cy="631" rx="5.8" ry="3.5" transform="rotate(76.9 722 631)"/><ellipse cx="725.9" cy="632.9" rx="5.8" ry="3.5" transform="rotate(75.6 725.9 632.9)"/><ellipse cx="729.9" cy="634.8" rx="5.8" ry="3.5" transform="rotate(76.6 729.9 634.8)"/><ellipse cx="733.8" cy="636.9" rx="5.8" ry="3.5" transform="rotate(80.7 733.8 636.9)"/><ellipse cx="737.3" cy="639.5" rx="5.8" ry="3.5" transform="rotate(94.9 737.3 639.5)"/></g>
<g fill="#fbfbfb" stroke="#8a8a8a" stroke-width="1.3"><ellipse cx="282" cy="645" rx="7.2" ry="4.4" transform="rotate(-29.2 282 645)"/><ellipse cx="283.1" cy="640.8" rx="7.2" ry="4.4" transform="rotate(-16.8 283.1 640.8)"/><ellipse cx="739.9" cy="643.1" rx="7.2" ry="4.4" transform="rotate(113.2 739.9 643.1)"/><ellipse cx="741.4" cy="647.2" rx="7.2" ry="4.4" transform="rotate(125 741.4 647.2)"/><ellipse cx="740.6" cy="651.3" rx="7.2" ry="4.4" transform="rotate(179 740.6 651.3)"/><ellipse cx="737.3" cy="654.2" rx="7.2" ry="4.4" transform="rotate(195 737.3 654.2)"/><ellipse cx="733.6" cy="656.6" rx="7.2" ry="4.4" transform="rotate(198.6 733.6 656.6)"/><ellipse cx="729.8" cy="658.8" rx="7.2" ry="4.4" transform="rotate(200.2 729.8 658.8)"/><ellipse cx="726" cy="661" rx="7.2" ry="4.4" transform="rotate(201.2 726 661)"/><ellipse cx="722.1" cy="663" rx="7.2" ry="4.4" transform="rotate(202.6 722.1 663)"/><ellipse cx="718.2" cy="665" rx="7.2" ry="4.4" transform="rotate(203.3 718.2 665)"/><ellipse cx="714.2" cy="667" rx="7.2" ry="4.4" transform="rotate(202.8 714.2 667)"/><ellipse cx="710.4" cy="669.1" rx="7.2" ry="4.4" transform="rotate(200.5 710.4 669.1)"/><ellipse cx="706.6" cy="671.4" rx="7.2" ry="4.4" transform="rotate(197.5 706.6 671.4)"/><ellipse cx="702.9" cy="673.7" rx="7.2" ry="4.4" transform="rotate(197.9 702.9 673.7)"/><ellipse cx="699.1" cy="676" rx="7.2" ry="4.4" transform="rotate(201.6 699.1 676)"/><ellipse cx="695.1" cy="677.9" rx="7.2" ry="4.4" transform="rotate(204.7 695.1 677.9)"/><ellipse cx="691.1" cy="679.7" rx="7.2" ry="4.4" transform="rotate(206 691.1 679.7)"/><ellipse cx="687.1" cy="681.4" rx="7.2" ry="4.4" transform="rotate(207.9 687.1 681.4)"/><ellipse cx="683" cy="683" rx="7.2" ry="4.4" transform="rotate(211.7 683 683)"/><ellipse cx="678.8" cy="684.3" rx="7.2" ry="4.4" transform="rotate(215.1 678.8 684.3)"/><ellipse cx="674.5" cy="685.3" rx="7.2" ry="4.4" transform="rotate(217.2 674.5 685.3)"/><ellipse cx="670.2" cy="686.2" rx="7.2" ry="4.4" transform="rotate(219.6 670.2 686.2)"/><ellipse cx="665.8" cy="686.9" rx="7.2" ry="4.4" transform="rotate(221.6 665.8 686.9)"/><ellipse cx="661.5" cy="687.5" rx="7.2" ry="4.4" transform="rotate(222.5 661.5 687.5)"/><ellipse cx="657.1" cy="688.1" rx="7.2" ry="4.4" transform="rotate(222.8 657.1 688.1)"/><ellipse cx="652.7" cy="688.7" rx="7.2" ry="4.4" transform="rotate(222.8 652.7 688.7)"/><ellipse cx="648.4" cy="689.2" rx="7.2" ry="4.4" transform="rotate(222.7 648.4 689.2)"/><ellipse cx="644" cy="689.8" rx="7.2" ry="4.4" transform="rotate(222.7 644 689.8)"/><ellipse cx="639.7" cy="690.3" rx="7.2" ry="4.4" transform="rotate(222.7 639.7 690.3)"/><ellipse cx="635.3" cy="690.9" rx="7.2" ry="4.4" transform="rotate(222.8 635.3 690.9)"/><ellipse cx="630.9" cy="691.4" rx="7.2" ry="4.4" transform="rotate(222.8 630.9 691.4)"/><ellipse cx="626.6" cy="692" rx="7.2" ry="4.4" transform="rotate(222.9 626.6 692)"/><ellipse cx="622.2" cy="692.5" rx="7.2" ry="4.4" transform="rotate(223.1 622.2 692.5)"/><ellipse cx="617.8" cy="693.1" rx="7.2" ry="4.4" transform="rotate(223.1 617.8 693.1)"/><ellipse cx="613.5" cy="693.6" rx="7.2" ry="4.4" transform="rotate(223.2 613.5 693.6)"/><ellipse cx="609.1" cy="694.1" rx="7.2" ry="4.4" transform="rotate(223.4 609.1 694.1)"/><ellipse cx="604.7" cy="694.6" rx="7.2" ry="4.4" transform="rotate(223.6 604.7 694.6)"/><ellipse cx="600.3" cy="695.1" rx="7.2" ry="4.4" transform="rotate(223.8 600.3 695.1)"/><ellipse cx="596" cy="695.5" rx="7.2" ry="4.4" transform="rotate(224.1 596 695.5)"/><ellipse cx="591.6" cy="696" rx="7.2" ry="4.4" transform="rotate(224.4 591.6 696)"/><ellipse cx="587.2" cy="696.4" rx="7.2" ry="4.4" transform="rotate(224.8 587.2 696.4)"/><ellipse cx="582.8" cy="696.8" rx="7.2" ry="4.4" transform="rotate(225.2 582.8 696.8)"/><ellipse cx="578.4" cy="697.1" rx="7.2" ry="4.4" transform="rotate(225.6 578.4 697.1)"/><ellipse cx="574.1" cy="697.5" rx="7.2" ry="4.4" transform="rotate(225.8 574.1 697.5)"/><ellipse cx="569.7" cy="697.8" rx="7.2" ry="4.4" transform="rotate(226 569.7 697.8)"/><ellipse cx="565.3" cy="698.1" rx="7.2" ry="4.4" transform="rotate(226.3 565.3 698.1)"/><ellipse cx="560.9" cy="698.3" rx="7.2" ry="4.4" transform="rotate(226.5 560.9 698.3)"/><ellipse cx="556.5" cy="698.6" rx="7.2" ry="4.4" transform="rotate(226.8 556.5 698.6)"/><ellipse cx="552.1" cy="698.8" rx="7.2" ry="4.4" transform="rotate(227.1 552.1 698.8)"/><ellipse cx="547.7" cy="699" rx="7.2" ry="4.4" transform="rotate(227.3 547.7 699)"/><ellipse cx="543.3" cy="699.2" rx="7.2" ry="4.4" transform="rotate(227.6 543.3 699.2)"/><ellipse cx="538.9" cy="699.4" rx="7.2" ry="4.4" transform="rotate(227.9 538.9 699.4)"/><ellipse cx="534.5" cy="699.6" rx="7.2" ry="4.4" transform="rotate(228.2 534.5 699.6)"/><ellipse cx="530.1" cy="699.7" rx="7.2" ry="4.4" transform="rotate(228.4 530.1 699.7)"/><ellipse cx="525.7" cy="699.8" rx="7.2" ry="4.4" transform="rotate(228.7 525.7 699.8)"/><ellipse cx="521.3" cy="699.9" rx="7.2" ry="4.4" transform="rotate(229 521.3 699.9)"/><ellipse cx="516.9" cy="699.9" rx="7.2" ry="4.4" transform="rotate(229.2 516.9 699.9)"/><ellipse cx="512.5" cy="700" rx="7.2" ry="4.4" transform="rotate(229.5 512.5 700)"/><ellipse cx="508.1" cy="700" rx="7.2" ry="4.4" transform="rotate(229.8 508.1 700)"/><ellipse cx="503.7" cy="700" rx="7.2" ry="4.4" transform="rotate(-129.8 503.7 700)"/><ellipse cx="499.3" cy="700" rx="7.2" ry="4.4" transform="rotate(-129.5 499.3 700)"/><ellipse cx="494.9" cy="699.9" rx="7.2" ry="4.4" transform="rotate(-129.3 494.9 699.9)"/><ellipse cx="490.5" cy="699.9" rx="7.2" ry="4.4" transform="rotate(-129 490.5 699.9)"/><ellipse cx="486.1" cy="699.8" rx="7.2" ry="4.4" transform="rotate(-129 486.1 699.8)"/><ellipse cx="481.7" cy="699.7" rx="7.2" ry="4.4" transform="rotate(-128.8 481.7 699.7)"/><ellipse cx="477.3" cy="699.6" rx="7.2" ry="4.4" transform="rotate(-128.6 477.3 699.6)"/><ellipse cx="472.9" cy="699.5" rx="7.2" ry="4.4" transform="rotate(-128.5 472.9 699.5)"/><ellipse cx="468.5" cy="699.4" rx="7.2" ry="4.4" transform="rotate(-128.3 468.5 699.4)"/><ellipse cx="464.1" cy="699.3" rx="7.2" ry="4.4" transform="rotate(-128.3 464.1 699.3)"/><ellipse cx="459.7" cy="699.1" rx="7.2" ry="4.4" transform="rotate(-128.2 459.7 699.1)"/><ellipse cx="455.3" cy="699" rx="7.2" ry="4.4" transform="rotate(-128 455.3 699)"/><ellipse cx="450.9" cy="698.8" rx="7.2" ry="4.4" transform="rotate(-127.9 450.9 698.8)"/><ellipse cx="446.5" cy="698.6" rx="7.2" ry="4.4" transform="rotate(-127.7 446.5 698.6)"/><ellipse cx="442.1" cy="698.5" rx="7.2" ry="4.4" transform="rotate(-127.6 442.1 698.5)"/><ellipse cx="437.7" cy="698.3" rx="7.2" ry="4.4" transform="rotate(-127.4 437.7 698.3)"/><ellipse cx="433.3" cy="698.1" rx="7.2" ry="4.4" transform="rotate(-127.3 433.3 698.1)"/><ellipse cx="429" cy="697.8" rx="7.2" ry="4.4" transform="rotate(-126.9 429 697.8)"/><ellipse cx="424.6" cy="697.5" rx="7.2" ry="4.4" transform="rotate(-125.8 424.6 697.5)"/><ellipse cx="420.2" cy="697.2" rx="7.2" ry="4.4" transform="rotate(-124.4 420.2 697.2)"/><ellipse cx="415.8" cy="696.7" rx="7.2" ry="4.4" transform="rotate(-123 415.8 696.7)"/><ellipse cx="411.4" cy="696.1" rx="7.2" ry="4.4" transform="rotate(-121.8 411.4 696.1)"/><ellipse cx="407.1" cy="695.5" rx="7.2" ry="4.4" transform="rotate(-121.3 407.1 695.5)"/><ellipse cx="402.7" cy="694.8" rx="7.2" ry="4.4" transform="rotate(-122.6 402.7 694.8)"/><ellipse cx="398.4" cy="694.3" rx="7.2" ry="4.4" transform="rotate(-123.7 398.4 694.3)"/><ellipse cx="394" cy="693.9" rx="7.2" ry="4.4" transform="rotate(-124 394 693.9)"/><ellipse cx="389.6" cy="693.4" rx="7.2" ry="4.4" transform="rotate(-124 389.6 693.4)"/><ellipse cx="385.2" cy="692.9" rx="7.2" ry="4.4" transform="rotate(-123.9 385.2 692.9)"/><ellipse cx="380.9" cy="692.5" rx="7.2" ry="4.4" transform="rotate(-123.7 380.9 692.5)"/><ellipse cx="376.5" cy="692" rx="7.2" ry="4.4" transform="rotate(-123.3 376.5 692)"/><ellipse cx="372.1" cy="691.4" rx="7.2" ry="4.4" transform="rotate(-122.7 372.1 691.4)"/><ellipse cx="367.8" cy="690.8" rx="7.2" ry="4.4" transform="rotate(-119.9 367.8 690.8)"/><ellipse cx="363.5" cy="689.8" rx="7.2" ry="4.4" transform="rotate(-112.1 363.5 689.8)"/><ellipse cx="359.3" cy="688.4" rx="7.2" ry="4.4" transform="rotate(-113.8 359.3 688.4)"/><ellipse cx="355.1" cy="687.3" rx="7.2" ry="4.4" transform="rotate(-116.3 355.1 687.3)"/><ellipse cx="350.8" cy="686.2" rx="7.2" ry="4.4" transform="rotate(-116.5 350.8 686.2)"/><ellipse cx="346.5" cy="685.2" rx="7.2" ry="4.4" transform="rotate(-116.4 346.5 685.2)"/><ellipse cx="342.2" cy="684.2" rx="7.2" ry="4.4" transform="rotate(-115.9 342.2 684.2)"/><ellipse cx="338" cy="683.1" rx="7.2" ry="4.4" transform="rotate(-114.9 338 683.1)"/><ellipse cx="333.8" cy="681.9" rx="7.2" ry="4.4" transform="rotate(-114.5 333.8 681.9)"/><ellipse cx="329.5" cy="680.7" rx="7.2" ry="4.4" transform="rotate(-114.4 329.5 680.7)"/><ellipse cx="325.3" cy="679.4" rx="7.2" ry="4.4" transform="rotate(-110.7 325.3 679.4)"/><ellipse cx="321.2" cy="677.8" rx="7.2" ry="4.4" transform="rotate(-105.6 321.2 677.8)"/><ellipse cx="317.3" cy="675.8" rx="7.2" ry="4.4" transform="rotate(-99.5 317.3 675.8)"/><ellipse cx="313.6" cy="673.5" rx="7.2" ry="4.4" transform="rotate(-96.4 313.6 673.5)"/><ellipse cx="309.9" cy="671" rx="7.2" ry="4.4" transform="rotate(-94.7 309.9 671)"/><ellipse cx="306.4" cy="668.4" rx="7.2" ry="4.4" transform="rotate(-94.1 306.4 668.4)"/><ellipse cx="302.8" cy="665.9" rx="7.2" ry="4.4" transform="rotate(-95.5 302.8 665.9)"/><ellipse cx="299.1" cy="663.4" rx="7.2" ry="4.4" transform="rotate(-95.8 299.1 663.4)"/><ellipse cx="295.5" cy="660.9" rx="7.2" ry="4.4" transform="rotate(-93.5 295.5 660.9)"/><ellipse cx="292.1" cy="658.1" rx="7.2" ry="4.4" transform="rotate(-88.7 292.1 658.1)"/><ellipse cx="289" cy="655" rx="7.2" ry="4.4" transform="rotate(-82.3 289 655)"/><ellipse cx="286.1" cy="651.7" rx="7.2" ry="4.4" transform="rotate(-79.4 286.1 651.7)"/><ellipse cx="283.4" cy="648.2" rx="7.2" ry="4.4" transform="rotate(-82.3 283.4 648.2)"/></g>
<path d="M282.3,645 l2.3,-1.6 M283.7,641 l2.6,-1 M287,631.8 l2.8,0.4 M295.4,628 l2.7,0.8 M304.9,627.4 l2.6,1.1 M308.5,624.8 l2.5,1.3 M312.6,623.5 l2.5,1.4 M321.3,621.7 l2.5,1.3 M329.7,619 l2.5,1.2 M333,615 l2.6,1.2 M338.2,616.7 l2.5,1.2 M342.1,614.4 l2.5,1.3 M359,609.9 l2.4,1.4 M363.4,609.7 l2.4,1.5 M371.1,603.4 l2.3,1.7 M376.3,607.6 l2.3,1.7 M380.3,605 l2.3,1.7 M384.5,603.6 l2.3,1.7 M388.8,602 l2.3,1.7 M393.3,602.8 l2.3,1.7 M424,600.8 l2.2,1.8 M437.1,598.8 l2.1,1.8 M441.5,599.2 l2.1,1.9 M445.7,595.6 l2.1,1.9 M450.3,598.7 l2.1,1.9 M459,597.9 l2.1,1.9 M463.2,593.7 l2.1,1.9 M467.8,597.2 l2.1,1.9 M560,596.4 l1.9,2.1 M564.4,597.2 l1.9,2.1 M568.7,598.4 l1.9,2.1 M577.5,599.6 l1.9,2.1 M582.2,594.3 l1.9,2.1 M586.6,594.3 l1.9,2.1 M590.9,596.8 l1.9,2.1 M599.8,595.3 l1.8,2.2 M608.1,601.6 l1.8,2.2 M617.1,599.7 l1.7,2.3 M621.3,601.5 l1.7,2.3 M625.7,601.8 l1.6,2.3 M638.8,603.6 l1.5,2.4 M647.5,604.8 l1.5,2.4 M655.8,608.1 l1.5,2.4 M660.3,608.3 l1.5,2.4 M665.2,607.2 l1.4,2.5 M677,614.1 l1.5,2.4 M681.2,615.4 l1.5,2.4 M685.4,616.7 l1.4,2.4 M695,615.4 l1.3,2.5 M706.6,622.5 l0.9,2.7 M710.9,623.8 l0.8,2.7 M714.8,625.8 l0.8,2.7 M717.8,629.4 l0.8,2.7 M722.3,630.3 l0.9,2.7 M729.7,635.2 l0.9,2.7 M738.5,638.4 l0,2.8 M743.2,646.7 l-1.4,2.4 M739.7,650.6 l-2.8,0.3 M737.9,655.1 l-2.8,-0.5 M732.5,654.9 l-2.7,-0.7 M728.7,656.9 l-2.7,-0.7 M726.4,661.8 l-2.7,-0.8 M715,668.5 l-2.7,-0.9 M710.3,668.9 l-2.7,-0.8 M705.6,669.8 l-2.8,-0.6 M699.7,677.1 l-2.7,-0.8 M683.7,685.1 l-2.5,-1.3 M678.3,682.6 l-2.4,-1.4 M674.7,686.2 l-2.4,-1.5 M670.3,686.7 l-2.3,-1.6 M665.5,684.4 l-2.3,-1.7 M661.9,690.5 l-2.2,-1.7 M643.7,687.1 l-2.2,-1.7 M635.1,689.4 l-2.2,-1.7 M622.3,693.8 l-2.2,-1.7 M618,694.7 l-2.2,-1.7 M613.4,693.1 l-2.2,-1.7 M608.9,692.2 l-2.2,-1.8 M604.4,692.2 l-2.2,-1.8 M583.1,699.7 l-2.2,-1.8 M574.1,698.7 l-2.1,-1.8 M565.3,698.6 l-2.1,-1.9 M552.2,700.3 l-2.1,-1.9 M543.2,697.5 l-2.1,-1.9 M539,701.2 l-2.1,-1.9 M534.4,697.7 l-2.1,-1.9 M530.1,697.9 l-2.1,-1.9 M512.5,699.2 l-2,-2 M503.7,701.4 l-2,-2 M499.3,699.8 l-2,-2 M494.9,700.1 l-2,-2 M486.1,702.5 l-2,-2 M481.7,702 l-2,-2 M477.4,696.8 l-2,-2 M468.5,699.4 l-1.9,-2.1 M464.1,700.4 l-1.9,-2.1 M459.8,698.2 l-1.9,-2.1 M455.3,699.8 l-1.9,-2.1 M450.9,699.8 l-1.9,-2.1 M446.5,698.3 l-1.9,-2.1 M437.6,700.8 l-1.9,-2.1 M433.3,698.8 l-1.9,-2.1 M420.4,695.4 l-1.8,-2.2 M411.3,696.9 l-1.7,-2.3 M407.3,694.2 l-1.7,-2.3 M402.9,693.7 l-1.7,-2.2 M398.2,695.8 l-1.8,-2.2 M394.1,692.7 l-1.8,-2.2 M389.6,693.8 l-1.8,-2.2 M385.5,690.7 l-1.8,-2.2 M376.8,689.6 l-1.8,-2.2 M367.7,691 l-1.6,-2.3 M364.1,688 l-1.3,-2.5 M337.4,685.3 l-1.4,-2.5 M333,684.7 l-1.4,-2.5 M330,679.1 l-1.4,-2.5 M324.5,681.7 l-1.2,-2.5 M322.2,675.7 l-1,-2.6 M315.8,678.3 l-0.7,-2.7 M311.1,669.3 l-0.5,-2.8 M296.6,659.4 l-0.4,-2.8 M293.2,656.9 l-0.2,-2.8 M289.9,654.1 l0.1,-2.8 M287.3,650.7 l0.3,-2.8" stroke="#555" stroke-width="1.3" stroke-linecap="round" fill="none"/>
<ellipse cx="327.8" cy="618.1" rx="5.4" ry="6" fill="url(#bead)" stroke="#888" stroke-width="1.1"/>
<path d="M324.4,615.4 l0,5.4" stroke="#333" stroke-width="1.8"/>
<ellipse cx="420" cy="599" rx="5.4" ry="6" fill="url(#bead)" stroke="#888" stroke-width="1.1"/>
<path d="M416.7,596.3 l0,5.4" stroke="#333" stroke-width="1.8"/>
<ellipse cx="610" cy="599" rx="5.4" ry="6" fill="url(#bead)" stroke="#888" stroke-width="1.1"/>
<path d="M606.7,596.3 l0,5.4" stroke="#333" stroke-width="1.8"/>
<ellipse cx="699.5" cy="619.7" rx="5.4" ry="6" fill="url(#bead)" stroke="#888" stroke-width="1.1"/>
<path d="M696.2,617 l0,5.4" stroke="#333" stroke-width="1.8"/>
<ellipse cx="283.2" cy="648" rx="5.4" ry="6" fill="url(#bead)" stroke="#888" stroke-width="1.1"/>
<path d="M279.9,645.3 l0,5.4" stroke="#333" stroke-width="1.8"/>
<ellipse cx="741.1" cy="646.4" rx="5.4" ry="6" fill="url(#bead)" stroke="#888" stroke-width="1.1"/>
<path d="M737.8,643.7 l0,5.4" stroke="#333" stroke-width="1.8"/>
<ellipse cx="319.5" cy="677" rx="6.6" ry="7.3" fill="url(#bead)" stroke="#888" stroke-width="1.1"/>
<path d="M315.5,673.7 l0,6.6" stroke="#333" stroke-width="1.8"/>
<ellipse cx="432" cy="698" rx="6.6" ry="7.3" fill="url(#bead)" stroke="#888" stroke-width="1.1"/>
<path d="M428,694.7 l0,6.6" stroke="#333" stroke-width="1.8"/>
<ellipse cx="580" cy="697" rx="6.6" ry="7.3" fill="url(#bead)" stroke="#888" stroke-width="1.1"/>
<path d="M576,693.7 l0,6.6" stroke="#333" stroke-width="1.8"/>
<ellipse cx="697" cy="677" rx="6.6" ry="7.3" fill="url(#bead)" stroke="#888" stroke-width="1.1"/>
<path d="M693,673.7 l0,6.6" stroke="#333" stroke-width="1.8"/>
<g transform="translate(0 0)">
<path d="M330,143 L343,153 L360,168" stroke="#666" stroke-width="2.2" fill="none"/>
<ellipse cx="336" cy="146.5" rx="4" ry="6" transform="rotate(40 336 146.5)" fill="none" stroke="#929292" stroke-width="1.5"/>
<ellipse cx="359.6" cy="161.4" rx="5" ry="7.5" transform="rotate(0 359.6 161.4)" fill="none" stroke="#929292" stroke-width="1.5"/>
<ellipse cx="375.6" cy="164.5" rx="9" ry="8.6" transform="rotate(0 375.6 164.5)" fill="none" stroke="#929292" stroke-width="1.5"/>
<ellipse cx="395" cy="164.5" rx="10" ry="9.5" transform="rotate(0 395 164.5)" fill="none" stroke="#929292" stroke-width="1.5"/>
<ellipse cx="415" cy="162.5" rx="9" ry="8.8" transform="rotate(0 415 162.5)" fill="none" stroke="#929292" stroke-width="1.5"/>
<ellipse cx="430.5" cy="159.5" rx="7" ry="8.5" transform="rotate(-20 430.5 159.5)" fill="none" stroke="#929292" stroke-width="1.5"/>
<ellipse cx="445" cy="155.5" rx="8" ry="8" transform="rotate(0 445 155.5)" fill="none" stroke="#929292" stroke-width="1.5"/>
<ellipse cx="459.5" cy="150.5" rx="7.5" ry="8.5" transform="rotate(-30 459.5 150.5)" fill="none" stroke="#929292" stroke-width="1.5"/>
<ellipse cx="475" cy="146.2" rx="9.5" ry="9" transform="rotate(0 475 146.2)" fill="none" stroke="#929292" stroke-width="1.5"/>
<ellipse cx="489.5" cy="152" rx="7" ry="8" transform="rotate(30 489.5 152)" fill="none" stroke="#929292" stroke-width="1.5"/>
<ellipse cx="496.5" cy="162" rx="6" ry="7" transform="rotate(60 496.5 162)" fill="none" stroke="#929292" stroke-width="1.5"/>
<ellipse cx="498.5" cy="172" rx="5" ry="6.5" transform="rotate(0 498.5 172)" fill="none" stroke="#929292" stroke-width="1.5"/>
<ellipse cx="497" cy="180.5" rx="3.5" ry="5" transform="rotate(0 497 180.5)" fill="none" stroke="#929292" stroke-width="1.5"/>
<circle cx="315.5" cy="130" r="15" fill="#efefef" stroke="#939393" stroke-width="2.2"/>
<path d="M326.3,132.2 L320.1,133.1 L321.6,139.2 M320.1,133.1 L315.5,130 M321.6,139.2 L316.6,135.4 L313.3,140.8 M316.6,135.4 L315.5,130 M313.3,140.8 L312.4,134.6 L306.3,136.1 M312.4,134.6 L315.5,130 M306.3,136.1 L310.1,131.1 L304.7,127.8 M310.1,131.1 L315.5,130 M304.7,127.8 L310.9,126.9 L309.4,120.8 M310.9,126.9 L315.5,130 M309.4,120.8 L314.4,124.6 L317.7,119.2 M314.4,124.6 L315.5,130 M317.7,119.2 L318.6,125.4 L324.7,123.9 M318.6,125.4 L315.5,130 M324.7,123.9 L320.9,128.9 L326.3,132.2 M320.9,128.9 L315.5,130" fill="none" stroke="#b0b0b0" stroke-width="0.8"/>
<circle cx="315.5" cy="130" r="12.2" fill="none" stroke="#c0c0c0" stroke-width="1.2"/>
<path d="M308.8,132.1 l1.4,-0.1 M308.2,129.6 l-1,0 M309.2,123.3 l-1.3,-0.6 M323.3,135 l0.6,-1.5 M326.1,128.8 l0.5,0.4 M316.7,131.8 l0.1,-1.4 M317,133.9 l-1.5,-0.1 M306.6,133.5 l0.1,0.4 M307.5,130 l-0.1,-0.7 M326.5,129.8 l1.1,0.7" stroke="#555" stroke-width="1.3" stroke-linecap="round" fill="none"/>
<path d="M317.5,141 q6,-1 9,-7 M303.5,128 q1,-5 6,-8" stroke="#444" stroke-width="1.8" fill="none"/>
<circle cx="478.5" cy="201.6" r="8" fill="none" stroke="#888" stroke-width="1.6"/>
<circle cx="546" cy="200.8" r="9.2" fill="none" stroke="#888" stroke-width="1.6"/>
<path d="M486.1,189.2 Q491,185.6 496.9,185.6 Q504,186 509.5,189.2 Q516,191.5 522.1,194.6 L532.9,199 L527.5,201.8 L518.5,201.8 Q515.5,202.5 514.9,203.6 Q514.5,207 513.1,209 Q510,212.6 505.9,212.6 L496.9,212.6 Q491.5,211 489.7,207.2 Q486,203 486.1,200 Z" fill="#fbfbfb" stroke="#8a8a8a" stroke-width="1.3" stroke-linejoin="round"/>
<path d="M491,187 Q496,185.4 500,185.8 Q506,186.5 510,189.6 Q516,192 522.1,194.6 L532.9,199" fill="none" stroke="#666" stroke-width="1.7"/>
<path d="M514.9,203.6 Q514.5,207 513.1,209 Q510,212.6 505.9,212.6" fill="none" stroke="#555" stroke-width="1.8"/>
<ellipse cx="500.5" cy="201" rx="7" ry="7.8" fill="#fff" stroke="#9a9a9a" stroke-width="1.1"/>
<path d="M509,187 L511.5,180 L515,184" fill="none" stroke="#777" stroke-width="1.4"/>
</g>
<g transform="translate(2.5 202)">
<path d="M330,143 L343,153 L360,168" stroke="#666" stroke-width="2.2" fill="none"/>
<ellipse cx="336" cy="146.5" rx="4" ry="6" transform="rotate(40 336 146.5)" fill="none" stroke="#929292" stroke-width="1.5"/>
<ellipse cx="359.6" cy="161.4" rx="5" ry="7.5" transform="rotate(0 359.6 161.4)" fill="none" stroke="#929292" stroke-width="1.5"/>
<ellipse cx="375.6" cy="164.5" rx="9" ry="8.6" transform="rotate(0 375.6 164.5)" fill="none" stroke="#929292" stroke-width="1.5"/>
<ellipse cx="395" cy="164.5" rx="10" ry="9.5" transform="rotate(0 395 164.5)" fill="none" stroke="#929292" stroke-width="1.5"/>
<ellipse cx="415" cy="162.5" rx="9" ry="8.8" transform="rotate(0 415 162.5)" fill="none" stroke="#929292" stroke-width="1.5"/>
<ellipse cx="430.5" cy="159.5" rx="7" ry="8.5" transform="rotate(-20 430.5 159.5)" fill="none" stroke="#929292" stroke-width="1.5"/>
<ellipse cx="445" cy="155.5" rx="8" ry="8" transform="rotate(0 445 155.5)" fill="none" stroke="#929292" stroke-width="1.5"/>
<ellipse cx="459.5" cy="150.5" rx="7.5" ry="8.5" transform="rotate(-30 459.5 150.5)" fill="none" stroke="#929292" stroke-width="1.5"/>
<ellipse cx="475" cy="146.2" rx="9.5" ry="9" transform="rotate(0 475 146.2)" fill="none" stroke="#929292" stroke-width="1.5"/>
<ellipse cx="489.5" cy="152" rx="7" ry="8" transform="rotate(30 489.5 152)" fill="none" stroke="#929292" stroke-width="1.5"/>
<ellipse cx="496.5" cy="162" rx="6" ry="7" transform="rotate(60 496.5 162)" fill="none" stroke="#929292" stroke-width="1.5"/>
<ellipse cx="498.5" cy="172" rx="5" ry="6.5" transform="rotate(0 498.5 172)" fill="none" stroke="#929292" stroke-width="1.5"/>
<ellipse cx="497" cy="180.5" rx="3.5" ry="5" transform="rotate(0 497 180.5)" fill="none" stroke="#929292" stroke-width="1.5"/>
<circle cx="315.5" cy="130" r="15" fill="#efefef" stroke="#939393" stroke-width="2.2"/>
<path d="M326.3,132.2 L320.1,133.1 L321.6,139.2 M320.1,133.1 L315.5,130 M321.6,139.2 L316.6,135.4 L313.3,140.8 M316.6,135.4 L315.5,130 M313.3,140.8 L312.4,134.6 L306.3,136.1 M312.4,134.6 L315.5,130 M306.3,136.1 L310.1,131.1 L304.7,127.8 M310.1,131.1 L315.5,130 M304.7,127.8 L310.9,126.9 L309.4,120.8 M310.9,126.9 L315.5,130 M309.4,120.8 L314.4,124.6 L317.7,119.2 M314.4,124.6 L315.5,130 M317.7,119.2 L318.6,125.4 L324.7,123.9 M318.6,125.4 L315.5,130 M324.7,123.9 L320.9,128.9 L326.3,132.2 M320.9,128.9 L315.5,130" fill="none" stroke="#b0b0b0" stroke-width="0.8"/>
<circle cx="315.5" cy="130" r="12.2" fill="none" stroke="#c0c0c0" stroke-width="1.2"/>
<path d="M308.8,132.1 l1.4,-0.1 M308.2,129.6 l-1,0 M309.2,123.3 l-1.3,-0.6 M323.3,135 l0.6,-1.5 M326.1,128.8 l0.5,0.4 M316.7,131.8 l0.1,-1.4 M317,133.9 l-1.5,-0.1 M306.6,133.5 l0.1,0.4 M307.5,130 l-0.1,-0.7 M326.5,129.8 l1.1,0.7" stroke="#555" stroke-width="1.3" stroke-linecap="round" fill="none"/>
<path d="M317.5,141 q6,-1 9,-7 M303.5,128 q1,-5 6,-8" stroke="#444" stroke-width="1.8" fill="none"/>
<circle cx="478.5" cy="201.6" r="8" fill="none" stroke="#888" stroke-width="1.6"/>
<circle cx="546" cy="200.8" r="9.2" fill="none" stroke="#888" stroke-width="1.6"/>
<path d="M486.1,189.2 Q491,185.6 496.9,185.6 Q504,186 509.5,189.2 Q516,191.5 522.1,194.6 L532.9,199 L527.5,201.8 L518.5,201.8 Q515.5,202.5 514.9,203.6 Q514.5,207 513.1,209 Q510,212.6 505.9,212.6 L496.9,212.6 Q491.5,211 489.7,207.2 Q486,203 486.1,200 Z" fill="#fbfbfb" stroke="#8a8a8a" stroke-width="1.3" stroke-linejoin="round"/>
<path d="M491,187 Q496,185.4 500,185.8 Q506,186.5 510,189.6 Q516,192 522.1,194.6 L532.9,199" fill="none" stroke="#666" stroke-width="1.7"/>
<path d="M514.9,203.6 Q514.5,207 513.1,209 Q510,212.6 505.9,212.6" fill="none" stroke="#555" stroke-width="1.8"/>
<ellipse cx="500.5" cy="201" rx="7" ry="7.8" fill="#fff" stroke="#9a9a9a" stroke-width="1.1"/>
<path d="M509,187 L511.5,180 L515,184" fill="none" stroke="#777" stroke-width="1.4"/>
</g>
<g transform="translate(2 396)">
<path d="M330,143 L343,153 L360,168" stroke="#666" stroke-width="2.2" fill="none"/>
<ellipse cx="336" cy="146.5" rx="4" ry="6" transform="rotate(40 336 146.5)" fill="none" stroke="#929292" stroke-width="1.5"/>
<ellipse cx="359.6" cy="161.4" rx="5" ry="7.5" transform="rotate(0 359.6 161.4)" fill="none" stroke="#929292" stroke-width="1.5"/>
<ellipse cx="375.6" cy="164.5" rx="9" ry="8.6" transform="rotate(0 375.6 164.5)" fill="none" stroke="#929292" stroke-width="1.5"/>
<ellipse cx="395" cy="164.5" rx="10" ry="9.5" transform="rotate(0 395 164.5)" fill="none" stroke="#929292" stroke-width="1.5"/>
<ellipse cx="415" cy="162.5" rx="9" ry="8.8" transform="rotate(0 415 162.5)" fill="none" stroke="#929292" stroke-width="1.5"/>
<ellipse cx="430.5" cy="159.5" rx="7" ry="8.5" transform="rotate(-20 430.5 159.5)" fill="none" stroke="#929292" stroke-width="1.5"/>
<ellipse cx="445" cy="155.5" rx="8" ry="8" transform="rotate(0 445 155.5)" fill="none" stroke="#929292" stroke-width="1.5"/>
<ellipse cx="459.5" cy="150.5" rx="7.5" ry="8.5" transform="rotate(-30 459.5 150.5)" fill="none" stroke="#929292" stroke-width="1.5"/>
<ellipse cx="475" cy="146.2" rx="9.5" ry="9" transform="rotate(0 475 146.2)" fill="none" stroke="#929292" stroke-width="1.5"/>
<ellipse cx="489.5" cy="152" rx="7" ry="8" transform="rotate(30 489.5 152)" fill="none" stroke="#929292" stroke-width="1.5"/>
<ellipse cx="496.5" cy="162" rx="6" ry="7" transform="rotate(60 496.5 162)" fill="none" stroke="#929292" stroke-width="1.5"/>
<ellipse cx="498.5" cy="172" rx="5" ry="6.5" transform="rotate(0 498.5 172)" fill="none" stroke="#929292" stroke-width="1.5"/>
<ellipse cx="497" cy="180.5" rx="3.5" ry="5" transform="rotate(0 497 180.5)" fill="none" stroke="#929292" stroke-width="1.5"/>
<circle cx="315.5" cy="130" r="15" fill="#efefef" stroke="#939393" stroke-width="2.2"/>
<path d="M326.3,132.2 L320.1,133.1 L321.6,139.2 M320.1,133.1 L315.5,130 M321.6,139.2 L316.6,135.4 L313.3,140.8 M316.6,135.4 L315.5,130 M313.3,140.8 L312.4,134.6 L306.3,136.1 M312.4,134.6 L315.5,130 M306.3,136.1 L310.1,131.1 L304.7,127.8 M310.1,131.1 L315.5,130 M304.7,127.8 L310.9,126.9 L309.4,120.8 M310.9,126.9 L315.5,130 M309.4,120.8 L314.4,124.6 L317.7,119.2 M314.4,124.6 L315.5,130 M317.7,119.2 L318.6,125.4 L324.7,123.9 M318.6,125.4 L315.5,130 M324.7,123.9 L320.9,128.9 L326.3,132.2 M320.9,128.9 L315.5,130" fill="none" stroke="#b0b0b0" stroke-width="0.8"/>
<circle cx="315.5" cy="130" r="12.2" fill="none" stroke="#c0c0c0" stroke-width="1.2"/>
<path d="M308.8,132.1 l1.4,-0.1 M308.2,129.6 l-1,0 M309.2,123.3 l-1.3,-0.6 M323.3,135 l0.6,-1.5 M326.1,128.8 l0.5,0.4 M316.7,131.8 l0.1,-1.4 M317,133.9 l-1.5,-0.1 M306.6,133.5 l0.1,0.4 M307.5,130 l-0.1,-0.7 M326.5,129.8 l1.1,0.7" stroke="#555" stroke-width="1.3" stroke-linecap="round" fill="none"/>
<path d="M317.5,141 q6,-1 9,-7 M303.5,128 q1,-5 6,-8" stroke="#444" stroke-width="1.8" fill="none"/>
<circle cx="478.5" cy="201.6" r="8" fill="none" stroke="#888" stroke-width="1.6"/>
<circle cx="546" cy="200.8" r="9.2" fill="none" stroke="#888" stroke-width="1.6"/>
<path d="M486.1,189.2 Q491,185.6 496.9,185.6 Q504,186 509.5,189.2 Q516,191.5 522.1,194.6 L532.9,199 L527.5,201.8 L518.5,201.8 Q515.5,202.5 514.9,203.6 Q514.5,207 513.1,209 Q510,212.6 505.9,212.6 L496.9,212.6 Q491.5,211 489.7,207.2 Q486,203 486.1,200 Z" fill="#fbfbfb" stroke="#8a8a8a" stroke-width="1.3" stroke-linejoin="round"/>
<path d="M491,187 Q496,185.4 500,185.8 Q506,186.5 510,189.6 Q516,192 522.1,194.6 L532.9,199" fill="none" stroke="#666" stroke-width="1.7"/>
<path d="M514.9,203.6 Q514.5,207 513.1,209 Q510,212.6 505.9,212.6" fill="none" stroke="#555" stroke-width="1.8"/>
<ellipse cx="500.5" cy="201" rx="7" ry="7.8" fill="#fff" stroke="#9a9a9a" stroke-width="1.1"/>
<path d="M509,187 L511.5,180 L515,184" fill="none" stroke="#777" stroke-width="1.4"/>
</g>
<path d="M804,109 C808,101 818,95 830,92.5 C845,90 862,90 876,91.7 C888,93 897,99 906,110.5 L894,124 L873,139 L852,154 L829.5,136 L813,121 Z" fill="#f2f2f2" stroke="#a8a8a8" stroke-width="1.1" stroke-linejoin="round"/>
<path d="M830,118 L852,154 L842,118 Z M860,118 L852,154 L876,118 Z M812,110 L830,104 L826,116 Z M880,104 L902,110 L884,116 Z" fill="#dcdcdc"/>
<path d="M818,100 L840,98 L846,110 L828,112 Z M858,97 L878,98 L872,110 L858,108 Z" fill="#e2e2e2"/>
<path d="M804,109 Q852,125 906,110.5" fill="none" stroke="#c4c4c4" stroke-width="1"/>
<path d="M813,121 Q852,131 894,124" fill="none" stroke="#d0d0d0" stroke-width="1"/>
<path d="M830,118 L852,154 L876,118 M842,120 L852,154 L862,120 M830,93 L840,110 M876,92 L868,110" fill="none" stroke="#bdbdbd" stroke-width="0.8"/>
<path d="M809.9,104.8 L814.3,107 L811,113.6 Z M816.5,103.7 L822,101.5 L820.9,105.4 Z M835.2,101.5 L841.8,103.7 L839.6,105.9 L834.1,103.7 Z M842.9,108.1 L846.2,109.2 L848.4,116.9 L845.1,115.8 Z M848.4,103.7 L855,104.8 L857.2,107 L851.7,107 Z M859.4,107 L867.1,110.3 L866,112 L860,109.8 Z M866,100.4 L870.4,99.9 L870.4,102.6 Z M874.8,103.7 L880.3,105.4 L879.2,107 Z M883.6,104.8 L888,105.9 L886.9,108.7 Z M896.8,111.4 L899,118 L896.8,119.1 Z M852.8,125.7 L859.4,126.8 L858.3,129 L853.9,128.5 Z M844,140 L847.3,142.2 L846.2,145.5 Z M850.6,146.6 L853.9,147.7 L852.8,151 Z M857.2,142.2 L860.5,144.4 L858.3,146.6 Z M826,99 L830,98 L829,101 Z M889,112 L893,113 L891,116 Z" fill="#3a3a3a" stroke="#3a3a3a" stroke-width="0.8" stroke-linejoin="round" opacity="0.85"/>
</g>
<!-- checks -->
<use href="#chk" x="134.6" y="766.6"/>
<use href="#chk" x="134.6" y="840.2"/>
<use href="#chk" x="134.6" y="926.6"/>

<g font-family="Liberation Serif" fill="#222" stroke="#222" stroke-width="0.1" font-size="26.5" filter="url(#tsoft)">
  <text id="b1" x="185.4" y="825.4" textLength="771" lengthAdjust="spacingAndGlyphs">Material:925 Sterling Silver (Brightest Shiniest Delicate Sturdy)</text>
  <text id="b2" x="185.4" y="887.5" textLength="753.6" lengthAdjust="spacingAndGlyphs">Length.6.5 Inch+2 lnch Adjustable (Fits Most PeopIe's Wrists)</text>
  <text id="b3" x="185.4" y="949.6" textLength="735.5" lengthAdjust="spacingAndGlyphs">Pack:3 Pcs Chain Bracelets (Choose From a Variety of Styles)</text>
</g>
</svg>
</body></html>
